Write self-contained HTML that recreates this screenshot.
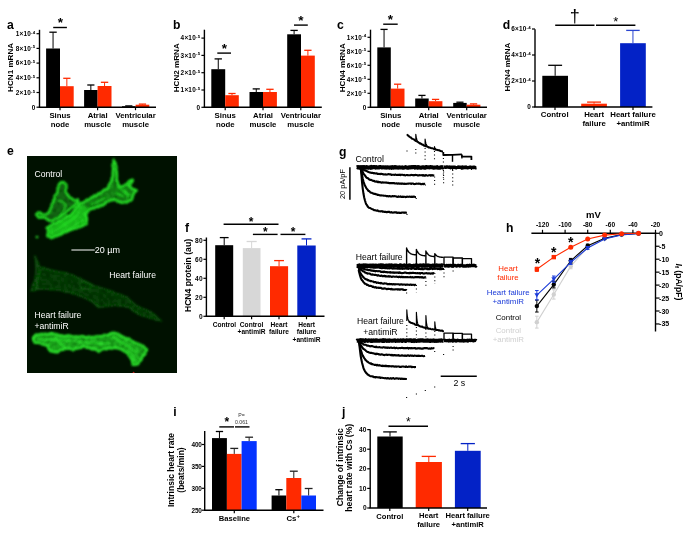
<!DOCTYPE html>
<html><head><meta charset="utf-8"><style>
html,body{margin:0;padding:0;background:#fff;}
body{width:685px;height:535px;overflow:hidden;}
svg{display:block;}
</style></head><body>
<svg width="685" height="535" viewBox="0 0 685 535" font-family='"Liberation Sans", Arial, sans-serif' font-weight="bold">
<rect width="685" height="535" fill="#fff"/>
<text x="7.00" y="29.30" font-size="12.2" text-anchor="start" fill="#000">a</text>
<text x="173.00" y="29.00" font-size="12.2" text-anchor="start" fill="#000">b</text>
<text x="337.00" y="29.40" font-size="12.2" text-anchor="start" fill="#000">c</text>
<text x="502.80" y="29.20" font-size="12.2" text-anchor="start" fill="#000">d</text>
<text x="7.00" y="155.30" font-size="12.2" text-anchor="start" fill="#000">e</text>
<text x="185.00" y="232.30" font-size="12.2" text-anchor="start" fill="#000">f</text>
<text x="339.00" y="156.00" font-size="12.2" text-anchor="start" fill="#000">g</text>
<text x="506.00" y="232.40" font-size="12.2" text-anchor="start" fill="#000">h</text>
<text x="173.30" y="416.40" font-size="12.2" text-anchor="start" fill="#000">i</text>
<text x="342.00" y="415.50" font-size="12.2" text-anchor="start" fill="#000">j</text>
<line x1="39.50" y1="29.80" x2="39.50" y2="107.20" stroke="#000" stroke-width="1.4"/>
<line x1="36.50" y1="107.20" x2="39.50" y2="107.20" stroke="#000" stroke-width="1.2"/>
<text x="35.50" y="109.50" font-size="6.4" text-anchor="end" fill="#000" letter-spacing="0.25">0</text>
<line x1="36.50" y1="92.50" x2="39.50" y2="92.50" stroke="#000" stroke-width="1.2"/>
<text x="35.50" y="94.80" font-size="6.4" text-anchor="end" fill="#000" letter-spacing="0.25">2×10<tspan font-size="4.4" dy="-2.3">-5</tspan></text>
<line x1="36.50" y1="77.80" x2="39.50" y2="77.80" stroke="#000" stroke-width="1.2"/>
<text x="35.50" y="80.10" font-size="6.4" text-anchor="end" fill="#000" letter-spacing="0.25">4×10<tspan font-size="4.4" dy="-2.3">-5</tspan></text>
<line x1="36.50" y1="63.10" x2="39.50" y2="63.10" stroke="#000" stroke-width="1.2"/>
<text x="35.50" y="65.40" font-size="6.4" text-anchor="end" fill="#000" letter-spacing="0.25">6×10<tspan font-size="4.4" dy="-2.3">-5</tspan></text>
<line x1="36.50" y1="48.40" x2="39.50" y2="48.40" stroke="#000" stroke-width="1.2"/>
<text x="35.50" y="50.70" font-size="6.4" text-anchor="end" fill="#000" letter-spacing="0.25">8×10<tspan font-size="4.4" dy="-2.3">-5</tspan></text>
<line x1="36.50" y1="33.70" x2="39.50" y2="33.70" stroke="#000" stroke-width="1.2"/>
<text x="35.50" y="36.00" font-size="6.4" text-anchor="end" fill="#000" letter-spacing="0.25">1×10<tspan font-size="4.4" dy="-2.3">-4</tspan></text>
<rect x="46.10" y="48.50" width="13.90" height="58.70" fill="#000"/>
<line x1="53.05" y1="48.50" x2="53.05" y2="32.20" stroke="#000" stroke-width="1.0"/>
<line x1="49.37" y1="32.20" x2="56.73" y2="32.20" stroke="#000" stroke-width="1.3"/>
<rect x="60.00" y="86.20" width="13.70" height="21.00" fill="#ff2a00"/>
<line x1="66.85" y1="86.20" x2="66.85" y2="78.30" stroke="#ff2a00" stroke-width="1.0"/>
<line x1="63.22" y1="78.30" x2="70.48" y2="78.30" stroke="#ff2a00" stroke-width="1.3"/>
<rect x="84.10" y="90.00" width="13.50" height="17.20" fill="#000"/>
<line x1="90.85" y1="90.00" x2="90.85" y2="85.00" stroke="#000" stroke-width="1.0"/>
<line x1="87.27" y1="85.00" x2="94.43" y2="85.00" stroke="#000" stroke-width="1.3"/>
<rect x="97.60" y="86.00" width="13.90" height="21.20" fill="#ff2a00"/>
<line x1="104.55" y1="86.00" x2="104.55" y2="82.30" stroke="#ff2a00" stroke-width="1.0"/>
<line x1="100.87" y1="82.30" x2="108.23" y2="82.30" stroke="#ff2a00" stroke-width="1.3"/>
<rect x="122.00" y="106.20" width="13.60" height="1.00" fill="#000"/>
<line x1="125.20" y1="105.90" x2="132.40" y2="105.90" stroke="#000" stroke-width="1.3"/>
<rect x="135.60" y="104.70" width="13.70" height="2.50" fill="#ff2a00"/>
<line x1="142.45" y1="104.70" x2="142.45" y2="104.10" stroke="#ff2a00" stroke-width="1.0"/>
<line x1="138.82" y1="104.10" x2="146.08" y2="104.10" stroke="#ff2a00" stroke-width="1.3"/>
<line x1="38.80" y1="107.20" x2="156.00" y2="107.20" stroke="#000" stroke-width="1.4"/>
<line x1="60.00" y1="107.20" x2="60.00" y2="110.20" stroke="#000" stroke-width="1.2"/>
<line x1="97.60" y1="107.20" x2="97.60" y2="110.20" stroke="#000" stroke-width="1.2"/>
<line x1="135.50" y1="107.20" x2="135.50" y2="110.20" stroke="#000" stroke-width="1.2"/>
<text x="60.00" y="117.90" font-size="7.8" text-anchor="middle" fill="#000">Sinus</text>
<text x="60.00" y="126.60" font-size="7.8" text-anchor="middle" fill="#000">node</text>
<text x="97.60" y="117.90" font-size="7.8" text-anchor="middle" fill="#000">Atrial</text>
<text x="97.60" y="126.60" font-size="7.8" text-anchor="middle" fill="#000">muscle</text>
<text x="135.60" y="117.90" font-size="7.8" text-anchor="middle" fill="#000">Ventricular</text>
<text x="135.60" y="126.60" font-size="7.8" text-anchor="middle" fill="#000">muscle</text>
<line x1="53.20" y1="27.50" x2="66.90" y2="27.50" stroke="#000" stroke-width="1.4"/>
<text x="60.30" y="27.45" font-size="13.5" text-anchor="middle" fill="#000">*</text>
<text x="13.40" y="67.40" font-size="8.1" text-anchor="middle" fill="#000" transform="rotate(-90 13.40 67.40)">HCN1 mRNA</text>
<line x1="204.40" y1="29.70" x2="204.40" y2="107.30" stroke="#000" stroke-width="1.4"/>
<line x1="201.40" y1="107.30" x2="204.40" y2="107.30" stroke="#000" stroke-width="1.2"/>
<text x="200.40" y="109.60" font-size="6.4" text-anchor="end" fill="#000" letter-spacing="0.25">0</text>
<line x1="201.40" y1="90.00" x2="204.40" y2="90.00" stroke="#000" stroke-width="1.2"/>
<text x="200.40" y="92.30" font-size="6.4" text-anchor="end" fill="#000" letter-spacing="0.25">1×10<tspan font-size="4.4" dy="-2.3">-5</tspan></text>
<line x1="201.40" y1="72.70" x2="204.40" y2="72.70" stroke="#000" stroke-width="1.2"/>
<text x="200.40" y="75.00" font-size="6.4" text-anchor="end" fill="#000" letter-spacing="0.25">2×10<tspan font-size="4.4" dy="-2.3">-5</tspan></text>
<line x1="201.40" y1="55.40" x2="204.40" y2="55.40" stroke="#000" stroke-width="1.2"/>
<text x="200.40" y="57.70" font-size="6.4" text-anchor="end" fill="#000" letter-spacing="0.25">3×10<tspan font-size="4.4" dy="-2.3">-5</tspan></text>
<line x1="201.40" y1="38.10" x2="204.40" y2="38.10" stroke="#000" stroke-width="1.2"/>
<text x="200.40" y="40.40" font-size="6.4" text-anchor="end" fill="#000" letter-spacing="0.25">4×10<tspan font-size="4.4" dy="-2.3">-5</tspan></text>
<rect x="211.30" y="69.20" width="13.90" height="38.10" fill="#000"/>
<line x1="218.25" y1="69.20" x2="218.25" y2="58.90" stroke="#000" stroke-width="1.0"/>
<line x1="214.57" y1="58.90" x2="221.93" y2="58.90" stroke="#000" stroke-width="1.3"/>
<rect x="225.20" y="95.20" width="13.60" height="12.10" fill="#ff2a00"/>
<line x1="232.00" y1="95.20" x2="232.00" y2="93.50" stroke="#ff2a00" stroke-width="1.0"/>
<line x1="228.40" y1="93.50" x2="235.60" y2="93.50" stroke="#ff2a00" stroke-width="1.3"/>
<rect x="249.50" y="92.00" width="13.50" height="15.30" fill="#000"/>
<line x1="256.25" y1="92.00" x2="256.25" y2="88.90" stroke="#000" stroke-width="1.0"/>
<line x1="252.67" y1="88.90" x2="259.83" y2="88.90" stroke="#000" stroke-width="1.3"/>
<rect x="263.00" y="92.00" width="13.90" height="15.30" fill="#ff2a00"/>
<line x1="269.95" y1="92.00" x2="269.95" y2="89.30" stroke="#ff2a00" stroke-width="1.0"/>
<line x1="266.27" y1="89.30" x2="273.63" y2="89.30" stroke="#ff2a00" stroke-width="1.3"/>
<rect x="287.20" y="34.30" width="13.80" height="73.00" fill="#000"/>
<line x1="294.10" y1="34.30" x2="294.10" y2="30.40" stroke="#000" stroke-width="1.0"/>
<line x1="290.44" y1="30.40" x2="297.76" y2="30.40" stroke="#000" stroke-width="1.3"/>
<rect x="301.00" y="55.60" width="13.80" height="51.70" fill="#ff2a00"/>
<line x1="307.90" y1="55.60" x2="307.90" y2="50.30" stroke="#ff2a00" stroke-width="1.0"/>
<line x1="304.24" y1="50.30" x2="311.56" y2="50.30" stroke="#ff2a00" stroke-width="1.3"/>
<line x1="203.70" y1="107.30" x2="321.80" y2="107.30" stroke="#000" stroke-width="1.4"/>
<line x1="225.20" y1="107.30" x2="225.20" y2="110.30" stroke="#000" stroke-width="1.2"/>
<line x1="263.00" y1="107.30" x2="263.00" y2="110.30" stroke="#000" stroke-width="1.2"/>
<line x1="300.80" y1="107.30" x2="300.80" y2="110.30" stroke="#000" stroke-width="1.2"/>
<text x="225.20" y="117.90" font-size="7.8" text-anchor="middle" fill="#000">Sinus</text>
<text x="225.20" y="126.60" font-size="7.8" text-anchor="middle" fill="#000">node</text>
<text x="263.00" y="117.90" font-size="7.8" text-anchor="middle" fill="#000">Atrial</text>
<text x="263.00" y="126.60" font-size="7.8" text-anchor="middle" fill="#000">muscle</text>
<text x="300.80" y="117.90" font-size="7.8" text-anchor="middle" fill="#000">Ventricular</text>
<text x="300.80" y="126.60" font-size="7.8" text-anchor="middle" fill="#000">muscle</text>
<line x1="217.30" y1="53.10" x2="231.00" y2="53.10" stroke="#000" stroke-width="1.4"/>
<text x="224.40" y="52.85" font-size="13.5" text-anchor="middle" fill="#000">*</text>
<line x1="294.00" y1="25.10" x2="307.80" y2="25.10" stroke="#000" stroke-width="1.4"/>
<text x="300.90" y="24.85" font-size="13.5" text-anchor="middle" fill="#000">*</text>
<text x="179.20" y="67.70" font-size="8.1" text-anchor="middle" fill="#000" transform="rotate(-90 179.20 67.70)">HCN2 mRNA</text>
<line x1="370.50" y1="29.70" x2="370.50" y2="107.30" stroke="#000" stroke-width="1.4"/>
<line x1="367.50" y1="107.30" x2="370.50" y2="107.30" stroke="#000" stroke-width="1.2"/>
<text x="366.50" y="109.60" font-size="6.4" text-anchor="end" fill="#000" letter-spacing="0.25">0</text>
<line x1="367.50" y1="93.30" x2="370.50" y2="93.30" stroke="#000" stroke-width="1.2"/>
<text x="366.50" y="95.60" font-size="6.4" text-anchor="end" fill="#000" letter-spacing="0.25">2×10<tspan font-size="4.4" dy="-2.3">-5</tspan></text>
<line x1="367.50" y1="79.30" x2="370.50" y2="79.30" stroke="#000" stroke-width="1.2"/>
<text x="366.50" y="81.60" font-size="6.4" text-anchor="end" fill="#000" letter-spacing="0.25">4×10<tspan font-size="4.4" dy="-2.3">-5</tspan></text>
<line x1="367.50" y1="65.30" x2="370.50" y2="65.30" stroke="#000" stroke-width="1.2"/>
<text x="366.50" y="67.60" font-size="6.4" text-anchor="end" fill="#000" letter-spacing="0.25">6×10<tspan font-size="4.4" dy="-2.3">-5</tspan></text>
<line x1="367.50" y1="51.30" x2="370.50" y2="51.30" stroke="#000" stroke-width="1.2"/>
<text x="366.50" y="53.60" font-size="6.4" text-anchor="end" fill="#000" letter-spacing="0.25">8×10<tspan font-size="4.4" dy="-2.3">-5</tspan></text>
<line x1="367.50" y1="37.30" x2="370.50" y2="37.30" stroke="#000" stroke-width="1.2"/>
<text x="366.50" y="39.60" font-size="6.4" text-anchor="end" fill="#000" letter-spacing="0.25">1×10<tspan font-size="4.4" dy="-2.3">-4</tspan></text>
<rect x="377.30" y="47.40" width="13.50" height="59.90" fill="#000"/>
<line x1="384.05" y1="47.40" x2="384.05" y2="29.40" stroke="#000" stroke-width="1.0"/>
<line x1="380.47" y1="29.40" x2="387.63" y2="29.40" stroke="#000" stroke-width="1.3"/>
<rect x="390.80" y="88.60" width="13.70" height="18.70" fill="#ff2a00"/>
<line x1="397.65" y1="88.60" x2="397.65" y2="84.20" stroke="#ff2a00" stroke-width="1.0"/>
<line x1="394.02" y1="84.20" x2="401.28" y2="84.20" stroke="#ff2a00" stroke-width="1.3"/>
<rect x="415.20" y="98.50" width="13.50" height="8.80" fill="#000"/>
<line x1="421.95" y1="98.50" x2="421.95" y2="95.40" stroke="#000" stroke-width="1.0"/>
<line x1="418.37" y1="95.40" x2="425.53" y2="95.40" stroke="#000" stroke-width="1.3"/>
<rect x="428.70" y="101.20" width="13.70" height="6.10" fill="#ff2a00"/>
<line x1="435.55" y1="101.20" x2="435.55" y2="99.40" stroke="#ff2a00" stroke-width="1.0"/>
<line x1="431.92" y1="99.40" x2="439.18" y2="99.40" stroke="#ff2a00" stroke-width="1.3"/>
<rect x="453.20" y="102.90" width="13.50" height="4.40" fill="#000"/>
<line x1="459.95" y1="102.90" x2="459.95" y2="102.20" stroke="#000" stroke-width="1.0"/>
<line x1="456.37" y1="102.20" x2="463.53" y2="102.20" stroke="#000" stroke-width="1.3"/>
<rect x="466.70" y="104.70" width="13.70" height="2.60" fill="#ff2a00"/>
<line x1="473.55" y1="104.70" x2="473.55" y2="103.90" stroke="#ff2a00" stroke-width="1.0"/>
<line x1="469.92" y1="103.90" x2="477.18" y2="103.90" stroke="#ff2a00" stroke-width="1.3"/>
<line x1="369.80" y1="107.30" x2="487.00" y2="107.30" stroke="#000" stroke-width="1.4"/>
<line x1="390.80" y1="107.30" x2="390.80" y2="110.30" stroke="#000" stroke-width="1.2"/>
<line x1="428.70" y1="107.30" x2="428.70" y2="110.30" stroke="#000" stroke-width="1.2"/>
<line x1="466.70" y1="107.30" x2="466.70" y2="110.30" stroke="#000" stroke-width="1.2"/>
<text x="390.80" y="117.90" font-size="7.8" text-anchor="middle" fill="#000">Sinus</text>
<text x="390.80" y="126.60" font-size="7.8" text-anchor="middle" fill="#000">node</text>
<text x="428.70" y="117.90" font-size="7.8" text-anchor="middle" fill="#000">Atrial</text>
<text x="428.70" y="126.60" font-size="7.8" text-anchor="middle" fill="#000">muscle</text>
<text x="466.70" y="117.90" font-size="7.8" text-anchor="middle" fill="#000">Ventricular</text>
<text x="466.70" y="126.60" font-size="7.8" text-anchor="middle" fill="#000">muscle</text>
<line x1="383.20" y1="24.20" x2="397.70" y2="24.20" stroke="#000" stroke-width="1.4"/>
<text x="390.40" y="23.95" font-size="13.5" text-anchor="middle" fill="#000">*</text>
<text x="344.70" y="67.70" font-size="8.1" text-anchor="middle" fill="#000" transform="rotate(-90 344.70 67.70)">HCN4 mRNA</text>
<line x1="535.00" y1="29.20" x2="535.00" y2="107.00" stroke="#000" stroke-width="1.4"/>
<line x1="532.00" y1="107.00" x2="535.00" y2="107.00" stroke="#000" stroke-width="1.2"/>
<text x="531.00" y="109.30" font-size="6.4" text-anchor="end" fill="#000" letter-spacing="0.25">0</text>
<line x1="532.00" y1="81.00" x2="535.00" y2="81.00" stroke="#000" stroke-width="1.2"/>
<text x="531.00" y="83.30" font-size="6.4" text-anchor="end" fill="#000" letter-spacing="0.25">2×10<tspan font-size="4.4" dy="-2.3">-4</tspan></text>
<line x1="532.00" y1="55.00" x2="535.00" y2="55.00" stroke="#000" stroke-width="1.2"/>
<text x="531.00" y="57.30" font-size="6.4" text-anchor="end" fill="#000" letter-spacing="0.25">4×10<tspan font-size="4.4" dy="-2.3">-4</tspan></text>
<line x1="532.00" y1="29.00" x2="535.00" y2="29.00" stroke="#000" stroke-width="1.2"/>
<text x="531.00" y="31.30" font-size="6.4" text-anchor="end" fill="#000" letter-spacing="0.25">6×10<tspan font-size="4.4" dy="-2.3">-4</tspan></text>
<rect x="542.30" y="75.80" width="25.70" height="31.20" fill="#000"/>
<line x1="555.15" y1="75.80" x2="555.15" y2="65.30" stroke="#000" stroke-width="1.0"/>
<line x1="548.20" y1="65.30" x2="562.10" y2="65.30" stroke="#000" stroke-width="1.3"/>
<rect x="581.20" y="103.70" width="25.70" height="3.30" fill="#ff2a00"/>
<line x1="594.05" y1="103.70" x2="594.05" y2="102.10" stroke="#ff2a00" stroke-width="1.0"/>
<line x1="587.10" y1="102.10" x2="601.00" y2="102.10" stroke="#ff2a00" stroke-width="1.3"/>
<rect x="620.10" y="43.20" width="25.70" height="63.80" fill="#0322c6"/>
<line x1="632.95" y1="43.20" x2="632.95" y2="30.40" stroke="#2a45d0" stroke-width="1.0"/>
<line x1="626.20" y1="30.40" x2="639.70" y2="30.40" stroke="#2a45d0" stroke-width="1.3"/>
<line x1="534.30" y1="107.00" x2="652.40" y2="107.00" stroke="#000" stroke-width="1.4"/>
<line x1="555.00" y1="107.00" x2="555.00" y2="110.00" stroke="#000" stroke-width="1.2"/>
<line x1="594.00" y1="107.00" x2="594.00" y2="110.00" stroke="#000" stroke-width="1.2"/>
<line x1="633.00" y1="107.00" x2="633.00" y2="110.00" stroke="#000" stroke-width="1.2"/>
<text x="554.70" y="117.00" font-size="7.8" text-anchor="middle" fill="#000">Control</text>
<text x="594.10" y="117.00" font-size="7.8" text-anchor="middle" fill="#000">Heart</text>
<text x="594.10" y="126.40" font-size="7.8" text-anchor="middle" fill="#000">failure</text>
<text x="633.00" y="117.00" font-size="7.8" text-anchor="middle" fill="#000">Heart failure</text>
<text x="633.00" y="126.40" font-size="7.8" text-anchor="middle" fill="#000">+antimiR</text>
<line x1="555.20" y1="25.30" x2="594.50" y2="25.30" stroke="#000" stroke-width="1.4"/>
<line x1="596.00" y1="25.30" x2="635.40" y2="25.30" stroke="#000" stroke-width="1.4"/>
<text x="574.80" y="22.20" font-size="18" font-weight="normal" text-anchor="middle" fill="#000">†</text>
<text x="615.70" y="26.10" font-size="13" font-weight="normal" text-anchor="middle" fill="#000">*</text>
<text x="509.80" y="67.10" font-size="8.1" text-anchor="middle" fill="#000" transform="rotate(-90 509.80 67.10)">HCN4 mRNA</text>
<line x1="206.40" y1="237.50" x2="206.40" y2="316.30" stroke="#000" stroke-width="1.4"/>
<line x1="203.40" y1="316.30" x2="206.40" y2="316.30" stroke="#000" stroke-width="1.2"/>
<text x="202.90" y="318.70" font-size="6.6" text-anchor="end" fill="#000" letter-spacing="0.25">0</text>
<line x1="203.40" y1="297.30" x2="206.40" y2="297.30" stroke="#000" stroke-width="1.2"/>
<text x="202.90" y="299.70" font-size="6.6" text-anchor="end" fill="#000" letter-spacing="0.25">20</text>
<line x1="203.40" y1="278.30" x2="206.40" y2="278.30" stroke="#000" stroke-width="1.2"/>
<text x="202.90" y="280.70" font-size="6.6" text-anchor="end" fill="#000" letter-spacing="0.25">40</text>
<line x1="203.40" y1="259.30" x2="206.40" y2="259.30" stroke="#000" stroke-width="1.2"/>
<text x="202.90" y="261.70" font-size="6.6" text-anchor="end" fill="#000" letter-spacing="0.25">60</text>
<line x1="203.40" y1="240.30" x2="206.40" y2="240.30" stroke="#000" stroke-width="1.2"/>
<text x="202.90" y="242.70" font-size="6.6" text-anchor="end" fill="#000" letter-spacing="0.25">80</text>
<rect x="215.20" y="245.20" width="18.00" height="71.10" fill="#000"/>
<line x1="224.20" y1="245.20" x2="224.20" y2="237.60" stroke="#000" stroke-width="1.0"/>
<line x1="219.80" y1="237.60" x2="228.60" y2="237.60" stroke="#000" stroke-width="1.3"/>
<rect x="242.80" y="248.10" width="17.70" height="68.20" fill="#d7d7d7"/>
<line x1="251.65" y1="248.10" x2="251.65" y2="241.50" stroke="#d7d7d7" stroke-width="1.0"/>
<line x1="246.60" y1="241.50" x2="256.70" y2="241.50" stroke="#d7d7d7" stroke-width="1.3"/>
<rect x="270.00" y="266.20" width="18.10" height="50.10" fill="#ff2a00"/>
<line x1="279.05" y1="266.20" x2="279.05" y2="260.60" stroke="#ff2a00" stroke-width="1.0"/>
<line x1="274.15" y1="260.60" x2="283.95" y2="260.60" stroke="#ff2a00" stroke-width="1.3"/>
<rect x="297.30" y="245.50" width="18.40" height="70.80" fill="#0322c6"/>
<line x1="306.50" y1="245.50" x2="306.50" y2="238.90" stroke="#0322c6" stroke-width="1.0"/>
<line x1="301.55" y1="238.90" x2="311.45" y2="238.90" stroke="#0322c6" stroke-width="1.3"/>
<line x1="205.70" y1="316.30" x2="324.50" y2="316.30" stroke="#000" stroke-width="1.4"/>
<line x1="224.20" y1="316.30" x2="224.20" y2="319.30" stroke="#000" stroke-width="1.2"/>
<line x1="251.60" y1="316.30" x2="251.60" y2="319.30" stroke="#000" stroke-width="1.2"/>
<line x1="279.00" y1="316.30" x2="279.00" y2="319.30" stroke="#000" stroke-width="1.2"/>
<line x1="306.50" y1="316.30" x2="306.50" y2="319.30" stroke="#000" stroke-width="1.2"/>
<text x="224.40" y="326.70" font-size="6.6" text-anchor="middle" fill="#000">Control</text>
<text x="251.60" y="326.70" font-size="6.6" text-anchor="middle" fill="#000">Control</text>
<text x="251.60" y="334.10" font-size="6.6" text-anchor="middle" fill="#000">+antimiR</text>
<text x="279.00" y="326.70" font-size="6.6" text-anchor="middle" fill="#000">Heart</text>
<text x="279.00" y="334.10" font-size="6.6" text-anchor="middle" fill="#000">failure</text>
<text x="306.60" y="326.70" font-size="6.6" text-anchor="middle" fill="#000">Heart</text>
<text x="306.60" y="334.10" font-size="6.6" text-anchor="middle" fill="#000">failure</text>
<text x="306.60" y="341.50" font-size="6.6" text-anchor="middle" fill="#000">+antimiR</text>
<line x1="223.60" y1="224.20" x2="278.50" y2="224.20" stroke="#000" stroke-width="1.4"/>
<text x="251.00" y="225.90" font-size="12" text-anchor="middle" fill="#000">*</text>
<line x1="252.90" y1="234.40" x2="277.60" y2="234.40" stroke="#000" stroke-width="1.4"/>
<text x="265.40" y="236.00" font-size="12" text-anchor="middle" fill="#000">*</text>
<line x1="280.50" y1="234.40" x2="305.40" y2="234.40" stroke="#000" stroke-width="1.4"/>
<text x="293.20" y="235.80" font-size="12" text-anchor="middle" fill="#000">*</text>
<text x="190.60" y="275.50" font-size="8.6" text-anchor="middle" fill="#000" transform="rotate(-90 190.60 275.50)">HCN4 protein (au)</text>
<line x1="204.70" y1="431.10" x2="204.70" y2="510.20" stroke="#000" stroke-width="1.4"/>
<line x1="201.70" y1="510.20" x2="204.70" y2="510.20" stroke="#000" stroke-width="1.2"/>
<text x="201.80" y="512.60" font-size="6.4" text-anchor="end" fill="#000" letter-spacing="-0.1">250</text>
<line x1="201.70" y1="488.30" x2="204.70" y2="488.30" stroke="#000" stroke-width="1.2"/>
<text x="201.80" y="490.70" font-size="6.4" text-anchor="end" fill="#000" letter-spacing="-0.1">300</text>
<line x1="201.70" y1="466.40" x2="204.70" y2="466.40" stroke="#000" stroke-width="1.2"/>
<text x="201.80" y="468.80" font-size="6.4" text-anchor="end" fill="#000" letter-spacing="-0.1">350</text>
<line x1="201.70" y1="444.50" x2="204.70" y2="444.50" stroke="#000" stroke-width="1.2"/>
<text x="201.80" y="446.90" font-size="6.4" text-anchor="end" fill="#000" letter-spacing="-0.1">400</text>
<rect x="212.00" y="438.10" width="14.90" height="72.10" fill="#000"/>
<line x1="219.45" y1="438.10" x2="219.45" y2="431.50" stroke="#000" stroke-width="1.0"/>
<line x1="215.80" y1="431.50" x2="223.10" y2="431.50" stroke="#000" stroke-width="1.3"/>
<rect x="226.90" y="453.90" width="14.70" height="56.30" fill="#ff2a00"/>
<line x1="234.25" y1="453.90" x2="234.25" y2="448.40" stroke="#222" stroke-width="1.0"/>
<line x1="230.30" y1="448.40" x2="238.20" y2="448.40" stroke="#222" stroke-width="1.3"/>
<rect x="241.60" y="441.10" width="15.10" height="69.10" fill="#0433ff"/>
<line x1="249.15" y1="441.10" x2="249.15" y2="437.20" stroke="#222" stroke-width="1.0"/>
<line x1="245.25" y1="437.20" x2="253.05" y2="437.20" stroke="#222" stroke-width="1.3"/>
<rect x="271.60" y="495.50" width="14.70" height="14.70" fill="#000"/>
<line x1="278.95" y1="495.50" x2="278.95" y2="489.70" stroke="#000" stroke-width="1.0"/>
<line x1="275.30" y1="489.70" x2="282.60" y2="489.70" stroke="#000" stroke-width="1.3"/>
<rect x="286.30" y="478.00" width="15.00" height="32.20" fill="#ff2a00"/>
<line x1="293.80" y1="478.00" x2="293.80" y2="471.20" stroke="#222" stroke-width="1.0"/>
<line x1="289.85" y1="471.20" x2="297.75" y2="471.20" stroke="#222" stroke-width="1.3"/>
<rect x="301.30" y="495.50" width="14.70" height="14.70" fill="#0433ff"/>
<line x1="308.65" y1="495.50" x2="308.65" y2="488.50" stroke="#222" stroke-width="1.0"/>
<line x1="304.75" y1="488.50" x2="312.55" y2="488.50" stroke="#222" stroke-width="1.3"/>
<line x1="204.00" y1="510.20" x2="323.50" y2="510.20" stroke="#000" stroke-width="1.4"/>
<line x1="234.30" y1="510.20" x2="234.30" y2="513.20" stroke="#000" stroke-width="1.2"/>
<line x1="293.80" y1="510.20" x2="293.80" y2="513.20" stroke="#000" stroke-width="1.2"/>
<text x="234.40" y="520.80" font-size="7.6" text-anchor="middle" fill="#000">Baseline</text>
<text x="293.20" y="521.00" font-size="7.8" text-anchor="middle" fill="#000">Cs<tspan font-size="6" dy="-3.3">+</tspan></text>
<line x1="219.30" y1="426.90" x2="234.00" y2="426.90" stroke="#000" stroke-width="1.4"/>
<text x="226.80" y="425.70" font-size="12" text-anchor="middle" fill="#000">*</text>
<line x1="235.00" y1="426.90" x2="249.50" y2="426.90" stroke="#000" stroke-width="1.4"/>
<text x="241.60" y="417.00" font-size="5.2" font-weight="normal" text-anchor="middle" fill="#333">P=</text>
<text x="241.50" y="424.20" font-size="5.2" font-weight="normal" text-anchor="middle" fill="#333">0.061</text>
<text x="173.50" y="470.00" font-size="8.5" text-anchor="middle" fill="#000" transform="rotate(-90 173.50 470.00)">Intrinsic heart rate</text>
<text x="184.30" y="470.00" font-size="8.5" text-anchor="middle" fill="#000" transform="rotate(-90 184.30 470.00)">(beats/min)</text>
<line x1="370.20" y1="429.60" x2="370.20" y2="508.00" stroke="#000" stroke-width="1.4"/>
<line x1="367.20" y1="508.00" x2="370.20" y2="508.00" stroke="#000" stroke-width="1.2"/>
<text x="366.80" y="510.40" font-size="6.6" text-anchor="end" fill="#000" letter-spacing="0.25">0</text>
<line x1="367.20" y1="488.40" x2="370.20" y2="488.40" stroke="#000" stroke-width="1.2"/>
<text x="366.80" y="490.80" font-size="6.6" text-anchor="end" fill="#000" letter-spacing="0.25">10</text>
<line x1="367.20" y1="468.80" x2="370.20" y2="468.80" stroke="#000" stroke-width="1.2"/>
<text x="366.80" y="471.20" font-size="6.6" text-anchor="end" fill="#000" letter-spacing="0.25">20</text>
<line x1="367.20" y1="449.20" x2="370.20" y2="449.20" stroke="#000" stroke-width="1.2"/>
<text x="366.80" y="451.60" font-size="6.6" text-anchor="end" fill="#000" letter-spacing="0.25">30</text>
<line x1="367.20" y1="429.60" x2="370.20" y2="429.60" stroke="#000" stroke-width="1.2"/>
<text x="366.80" y="432.00" font-size="6.6" text-anchor="end" fill="#000" letter-spacing="0.25">40</text>
<rect x="377.30" y="436.50" width="25.40" height="71.50" fill="#000"/>
<line x1="390.00" y1="436.50" x2="390.00" y2="431.90" stroke="#000" stroke-width="1.0"/>
<line x1="383.20" y1="431.90" x2="396.80" y2="431.90" stroke="#000" stroke-width="1.3"/>
<rect x="415.70" y="462.00" width="26.20" height="46.00" fill="#ff2a00"/>
<line x1="428.80" y1="462.00" x2="428.80" y2="456.40" stroke="#ff2a00" stroke-width="1.0"/>
<line x1="421.70" y1="456.40" x2="435.90" y2="456.40" stroke="#ff2a00" stroke-width="1.3"/>
<rect x="454.90" y="450.80" width="25.80" height="57.20" fill="#0322c6"/>
<line x1="467.80" y1="450.80" x2="467.80" y2="443.60" stroke="#0322c6" stroke-width="1.0"/>
<line x1="460.70" y1="443.60" x2="474.90" y2="443.60" stroke="#0322c6" stroke-width="1.3"/>
<line x1="369.50" y1="508.00" x2="487.00" y2="508.00" stroke="#000" stroke-width="1.4"/>
<line x1="389.80" y1="508.00" x2="389.80" y2="511.00" stroke="#000" stroke-width="1.2"/>
<line x1="428.70" y1="508.00" x2="428.70" y2="511.00" stroke="#000" stroke-width="1.2"/>
<line x1="467.70" y1="508.00" x2="467.70" y2="511.00" stroke="#000" stroke-width="1.2"/>
<text x="389.80" y="518.60" font-size="7.6" text-anchor="middle" fill="#000">Control</text>
<text x="428.70" y="518.00" font-size="7.6" text-anchor="middle" fill="#000">Heart</text>
<text x="428.70" y="526.80" font-size="7.6" text-anchor="middle" fill="#000">failure</text>
<text x="467.70" y="518.00" font-size="7.6" text-anchor="middle" fill="#000">Heart failure</text>
<text x="467.70" y="526.80" font-size="7.6" text-anchor="middle" fill="#000">+antimiR</text>
<line x1="388.50" y1="426.20" x2="428.00" y2="426.20" stroke="#000" stroke-width="1.4"/>
<text x="408.40" y="426.40" font-size="12" font-weight="normal" text-anchor="middle" fill="#000">*</text>
<text x="342.60" y="467.20" font-size="8.6" text-anchor="middle" fill="#000" transform="rotate(-90 342.60 467.20)">Change of intrinsic</text>
<text x="351.90" y="467.70" font-size="8.6" text-anchor="middle" fill="#000" transform="rotate(-90 351.90 467.70)">heart rate with Cs (%)</text>
<line x1="531.40" y1="233.30" x2="656.20" y2="233.30" stroke="#000" stroke-width="1.4"/>
<line x1="542.50" y1="233.30" x2="542.50" y2="229.80" stroke="#000" stroke-width="1.2"/>
<text x="542.50" y="227.00" font-size="6.6" text-anchor="middle" fill="#000">-120</text>
<line x1="565.10" y1="233.30" x2="565.10" y2="229.80" stroke="#000" stroke-width="1.2"/>
<text x="565.10" y="227.00" font-size="6.6" text-anchor="middle" fill="#000">-100</text>
<line x1="587.70" y1="233.30" x2="587.70" y2="229.80" stroke="#000" stroke-width="1.2"/>
<text x="587.70" y="227.00" font-size="6.6" text-anchor="middle" fill="#000">-80</text>
<line x1="610.30" y1="233.30" x2="610.30" y2="229.80" stroke="#000" stroke-width="1.2"/>
<text x="610.30" y="227.00" font-size="6.6" text-anchor="middle" fill="#000">-60</text>
<line x1="632.90" y1="233.30" x2="632.90" y2="229.80" stroke="#000" stroke-width="1.2"/>
<text x="632.90" y="227.00" font-size="6.6" text-anchor="middle" fill="#000">-40</text>
<line x1="655.50" y1="233.30" x2="655.50" y2="229.80" stroke="#000" stroke-width="1.2"/>
<text x="655.50" y="227.00" font-size="6.6" text-anchor="middle" fill="#000">-20</text>
<text x="593.50" y="217.80" font-size="9.5" text-anchor="middle" fill="#000">mV</text>
<line x1="655.50" y1="232.60" x2="655.50" y2="331.50" stroke="#000" stroke-width="1.4"/>
<line x1="655.50" y1="233.30" x2="659.60" y2="233.30" stroke="#000" stroke-width="1.2"/>
<text x="659.10" y="235.80" font-size="7.0" text-anchor="start" fill="#000">0</text>
<line x1="655.50" y1="246.25" x2="659.60" y2="246.25" stroke="#000" stroke-width="1.2"/>
<text x="659.10" y="248.75" font-size="7.0" text-anchor="start" fill="#000">-5</text>
<line x1="655.50" y1="259.20" x2="659.60" y2="259.20" stroke="#000" stroke-width="1.2"/>
<text x="659.10" y="261.70" font-size="7.0" text-anchor="start" fill="#000">-10</text>
<line x1="655.50" y1="272.15" x2="659.60" y2="272.15" stroke="#000" stroke-width="1.2"/>
<text x="659.10" y="274.65" font-size="7.0" text-anchor="start" fill="#000">-15</text>
<line x1="655.50" y1="285.10" x2="659.60" y2="285.10" stroke="#000" stroke-width="1.2"/>
<text x="659.10" y="287.60" font-size="7.0" text-anchor="start" fill="#000">-20</text>
<line x1="655.50" y1="298.05" x2="659.60" y2="298.05" stroke="#000" stroke-width="1.2"/>
<text x="659.10" y="300.55" font-size="7.0" text-anchor="start" fill="#000">-25</text>
<line x1="655.50" y1="311.00" x2="659.60" y2="311.00" stroke="#000" stroke-width="1.2"/>
<text x="659.10" y="313.50" font-size="7.0" text-anchor="start" fill="#000">-30</text>
<line x1="655.50" y1="323.95" x2="659.60" y2="323.95" stroke="#000" stroke-width="1.2"/>
<text x="659.10" y="326.45" font-size="7.0" text-anchor="start" fill="#000">-35</text>
<text x="676.00" y="263.50" font-size="8.6" text-anchor="start" fill="#000" transform="rotate(90 676.00 263.50)"><tspan font-style="italic">I</tspan><tspan font-size="6" dy="1.5">f</tspan><tspan dy="-1.5"> (pA/pF)</tspan></text>
<polyline points="536.85,322.14 553.80,294.42 570.75,266.19 587.70,247.29 604.65,238.48 621.60,234.59 638.55,233.56" fill="none" stroke="#d0d0d0" stroke-width="1.1"/>
<line x1="536.85" y1="316.18" x2="536.85" y2="328.09" stroke="#d0d0d0" stroke-width="1.0"/>
<line x1="535.05" y1="316.18" x2="538.65" y2="316.18" stroke="#d0d0d0" stroke-width="1.0"/>
<line x1="535.05" y1="328.09" x2="538.65" y2="328.09" stroke="#d0d0d0" stroke-width="1.0"/>
<circle cx="536.85" cy="322.14" r="2.2" fill="#d0d0d0"/>
<line x1="553.80" y1="289.76" x2="553.80" y2="299.09" stroke="#d0d0d0" stroke-width="1.0"/>
<line x1="552.00" y1="289.76" x2="555.60" y2="289.76" stroke="#d0d0d0" stroke-width="1.0"/>
<line x1="552.00" y1="299.09" x2="555.60" y2="299.09" stroke="#d0d0d0" stroke-width="1.0"/>
<circle cx="553.80" cy="294.42" r="2.2" fill="#d0d0d0"/>
<line x1="570.75" y1="263.60" x2="570.75" y2="268.78" stroke="#d0d0d0" stroke-width="1.0"/>
<line x1="568.95" y1="263.60" x2="572.55" y2="263.60" stroke="#d0d0d0" stroke-width="1.0"/>
<line x1="568.95" y1="268.78" x2="572.55" y2="268.78" stroke="#d0d0d0" stroke-width="1.0"/>
<circle cx="570.75" cy="266.19" r="2.2" fill="#d0d0d0"/>
<line x1="587.70" y1="245.99" x2="587.70" y2="248.58" stroke="#d0d0d0" stroke-width="1.0"/>
<line x1="585.90" y1="245.99" x2="589.50" y2="245.99" stroke="#d0d0d0" stroke-width="1.0"/>
<line x1="585.90" y1="248.58" x2="589.50" y2="248.58" stroke="#d0d0d0" stroke-width="1.0"/>
<circle cx="587.70" cy="247.29" r="2.2" fill="#d0d0d0"/>
<circle cx="604.65" cy="238.48" r="2.2" fill="#d0d0d0"/>
<circle cx="621.60" cy="234.59" r="2.2" fill="#d0d0d0"/>
<circle cx="638.55" cy="233.56" r="2.2" fill="#d0d0d0"/>
<polyline points="536.85,306.08 553.80,284.58 570.75,260.75 587.70,245.73 604.65,238.22 621.60,234.59 638.55,233.56" fill="none" stroke="#000" stroke-width="1.1"/>
<line x1="536.85" y1="300.12" x2="536.85" y2="312.04" stroke="#000" stroke-width="1.0"/>
<line x1="535.05" y1="300.12" x2="538.65" y2="300.12" stroke="#000" stroke-width="1.0"/>
<line x1="535.05" y1="312.04" x2="538.65" y2="312.04" stroke="#000" stroke-width="1.0"/>
<circle cx="536.85" cy="306.08" r="2.2" fill="#000"/>
<line x1="553.80" y1="281.22" x2="553.80" y2="287.95" stroke="#000" stroke-width="1.0"/>
<line x1="552.00" y1="281.22" x2="555.60" y2="281.22" stroke="#000" stroke-width="1.0"/>
<line x1="552.00" y1="287.95" x2="555.60" y2="287.95" stroke="#000" stroke-width="1.0"/>
<circle cx="553.80" cy="284.58" r="2.2" fill="#000"/>
<line x1="570.75" y1="258.42" x2="570.75" y2="263.09" stroke="#000" stroke-width="1.0"/>
<line x1="568.95" y1="258.42" x2="572.55" y2="258.42" stroke="#000" stroke-width="1.0"/>
<line x1="568.95" y1="263.09" x2="572.55" y2="263.09" stroke="#000" stroke-width="1.0"/>
<circle cx="570.75" cy="260.75" r="2.2" fill="#000"/>
<line x1="587.70" y1="244.18" x2="587.70" y2="247.29" stroke="#000" stroke-width="1.0"/>
<line x1="585.90" y1="244.18" x2="589.50" y2="244.18" stroke="#000" stroke-width="1.0"/>
<line x1="585.90" y1="247.29" x2="589.50" y2="247.29" stroke="#000" stroke-width="1.0"/>
<circle cx="587.70" cy="245.73" r="2.2" fill="#000"/>
<circle cx="604.65" cy="238.22" r="2.2" fill="#000"/>
<circle cx="621.60" cy="234.59" r="2.2" fill="#000"/>
<circle cx="638.55" cy="233.56" r="2.2" fill="#000"/>
<polyline points="536.85,295.20 553.80,279.14 570.75,262.31 587.70,248.06 604.65,239.00 621.60,234.85 638.55,233.56" fill="none" stroke="#1a3ad8" stroke-width="1.1"/>
<line x1="536.85" y1="290.54" x2="536.85" y2="299.86" stroke="#1a3ad8" stroke-width="1.0"/>
<line x1="535.05" y1="290.54" x2="538.65" y2="290.54" stroke="#1a3ad8" stroke-width="1.0"/>
<line x1="535.05" y1="299.86" x2="538.65" y2="299.86" stroke="#1a3ad8" stroke-width="1.0"/>
<path d="M534.45,293.20 L539.25,293.20 L536.85,297.60 Z" fill="#1a3ad8"/>
<line x1="553.80" y1="276.04" x2="553.80" y2="282.25" stroke="#1a3ad8" stroke-width="1.0"/>
<line x1="552.00" y1="276.04" x2="555.60" y2="276.04" stroke="#1a3ad8" stroke-width="1.0"/>
<line x1="552.00" y1="282.25" x2="555.60" y2="282.25" stroke="#1a3ad8" stroke-width="1.0"/>
<path d="M551.40,277.14 L556.20,277.14 L553.80,281.54 Z" fill="#1a3ad8"/>
<line x1="570.75" y1="260.24" x2="570.75" y2="264.38" stroke="#1a3ad8" stroke-width="1.0"/>
<line x1="568.95" y1="260.24" x2="572.55" y2="260.24" stroke="#1a3ad8" stroke-width="1.0"/>
<line x1="568.95" y1="264.38" x2="572.55" y2="264.38" stroke="#1a3ad8" stroke-width="1.0"/>
<path d="M568.35,260.31 L573.15,260.31 L570.75,264.71 Z" fill="#1a3ad8"/>
<line x1="587.70" y1="246.77" x2="587.70" y2="249.36" stroke="#1a3ad8" stroke-width="1.0"/>
<line x1="585.90" y1="246.77" x2="589.50" y2="246.77" stroke="#1a3ad8" stroke-width="1.0"/>
<line x1="585.90" y1="249.36" x2="589.50" y2="249.36" stroke="#1a3ad8" stroke-width="1.0"/>
<path d="M585.30,246.06 L590.10,246.06 L587.70,250.46 Z" fill="#1a3ad8"/>
<path d="M602.25,237.00 L607.05,237.00 L604.65,241.40 Z" fill="#1a3ad8"/>
<path d="M619.20,232.85 L624.00,232.85 L621.60,237.25 Z" fill="#1a3ad8"/>
<path d="M636.15,231.56 L640.95,231.56 L638.55,235.96 Z" fill="#1a3ad8"/>
<polyline points="536.85,269.30 553.80,257.13 570.75,247.29 587.70,239.00 604.65,235.11 621.60,233.82 638.55,233.30" fill="none" stroke="#ff2a00" stroke-width="1.1"/>
<line x1="536.85" y1="267.23" x2="536.85" y2="271.37" stroke="#ff2a00" stroke-width="1.0"/>
<line x1="535.05" y1="267.23" x2="538.65" y2="267.23" stroke="#ff2a00" stroke-width="1.0"/>
<line x1="535.05" y1="271.37" x2="538.65" y2="271.37" stroke="#ff2a00" stroke-width="1.0"/>
<rect x="534.65" y="267.10" width="4.40" height="4.40" fill="#ff2a00"/>
<line x1="553.80" y1="255.83" x2="553.80" y2="258.42" stroke="#ff2a00" stroke-width="1.0"/>
<line x1="552.00" y1="255.83" x2="555.60" y2="255.83" stroke="#ff2a00" stroke-width="1.0"/>
<line x1="552.00" y1="258.42" x2="555.60" y2="258.42" stroke="#ff2a00" stroke-width="1.0"/>
<rect x="551.60" y="254.93" width="4.40" height="4.40" fill="#ff2a00"/>
<line x1="570.75" y1="246.25" x2="570.75" y2="248.32" stroke="#ff2a00" stroke-width="1.0"/>
<line x1="568.95" y1="246.25" x2="572.55" y2="246.25" stroke="#ff2a00" stroke-width="1.0"/>
<line x1="568.95" y1="248.32" x2="572.55" y2="248.32" stroke="#ff2a00" stroke-width="1.0"/>
<circle cx="570.75" cy="247.29" r="2.5" fill="#ff2a00"/>
<circle cx="587.70" cy="239.00" r="2.5" fill="#ff2a00"/>
<circle cx="604.65" cy="235.11" r="2.5" fill="#ff2a00"/>
<circle cx="621.60" cy="233.82" r="2.5" fill="#ff2a00"/>
<circle cx="638.55" cy="233.30" r="2.5" fill="#ff2a00"/>
<text x="537.60" y="268.30" font-size="14" text-anchor="middle" fill="#000">*</text>
<text x="553.80" y="256.60" font-size="14" text-anchor="middle" fill="#000">*</text>
<text x="570.80" y="247.10" font-size="14" text-anchor="middle" fill="#000">*</text>
<text x="508.00" y="270.50" font-size="7.9" font-weight="normal" text-anchor="middle" fill="#ff2a00">Heart</text>
<text x="508.00" y="279.80" font-size="7.9" font-weight="normal" text-anchor="middle" fill="#ff2a00">failure</text>
<text x="508.20" y="294.60" font-size="7.9" font-weight="normal" text-anchor="middle" fill="#1a3ad8">Heart failure</text>
<text x="508.20" y="304.20" font-size="7.9" font-weight="normal" text-anchor="middle" fill="#1a3ad8">+antimiR</text>
<text x="508.40" y="320.40" font-size="7.9" font-weight="normal" text-anchor="middle" fill="#000">Control</text>
<text x="508.40" y="332.50" font-size="7.9" font-weight="normal" text-anchor="middle" fill="#d0d0d0">Control</text>
<text x="508.40" y="341.50" font-size="7.9" font-weight="normal" text-anchor="middle" fill="#d0d0d0">+antimiR</text>
<line x1="349.90" y1="167.30" x2="349.90" y2="199.70" stroke="#000" stroke-width="1.5"/>
<text x="345.30" y="184.00" font-size="7.4" font-weight="normal" text-anchor="middle" fill="#000" transform="rotate(-90 345.30 184.00)">20 pA/pF</text>
<text x="355.60" y="161.90" font-size="8.8" font-weight="normal" text-anchor="start" fill="#000">Control</text>
<text x="355.70" y="260.00" font-size="8.65" font-weight="normal" text-anchor="start" fill="#000">Heart failure</text>
<text x="380.40" y="323.70" font-size="8.65" font-weight="normal" text-anchor="middle" fill="#000">Heart failure</text>
<text x="380.40" y="334.70" font-size="8.65" font-weight="normal" text-anchor="middle" fill="#000">+antimiR</text>
<line x1="440.70" y1="376.30" x2="476.80" y2="376.30" stroke="#000" stroke-width="1.4"/>
<text x="459.40" y="386.20" font-size="8.8" font-weight="normal" text-anchor="middle" fill="#000">2 s</text>
<polyline points="356.60,167.24 357.30,167.09 358.00,167.54 358.70,167.02 359.40,167.43 360.10,167.28 360.80,167.00 361.50,167.41 362.20,166.98 362.90,167.34 363.60,167.01 364.30,167.03 365.00,167.33 365.70,167.69 366.40,167.06 367.10,167.15 367.80,167.51 368.50,167.80 369.20,167.47 369.90,167.31 370.60,167.83 371.30,166.99 372.00,167.72 372.70,167.21 373.40,167.08 374.10,167.06 374.80,167.23 375.50,167.68 376.20,167.11 376.90,167.47 377.60,167.53 378.30,167.29 379.00,167.44 379.70,167.01 380.40,167.00 381.10,167.14 381.80,167.56 382.50,167.33 383.20,167.23 383.90,167.48 384.60,167.36 385.30,167.22 386.00,167.66 386.70,167.58 387.40,167.17 388.10,167.47 388.80,167.42 389.50,167.74 390.20,167.61 390.90,167.21 391.60,167.83 392.30,167.06 393.00,167.33 393.70,167.63 394.40,167.09 395.10,167.39 395.80,166.99 396.50,167.55 397.20,167.64 397.90,167.47 398.60,167.74 399.30,167.23 400.00,167.58 400.70,167.48 401.40,167.47 402.10,167.36 402.80,167.71 403.50,167.80 404.20,167.38 404.90,167.55 405.60,167.00 406.30,167.58 407.00,167.53 407.70,167.84 408.40,167.69 409.10,167.21 409.80,167.30 410.50,167.55 411.20,166.97 411.90,167.37 412.60,167.10 413.30,167.06 414.00,167.00 414.70,167.64 415.40,167.07 416.10,167.17 416.80,167.30 417.50,167.73 418.20,167.02 418.90,167.35 419.60,167.44 420.30,167.75 421.00,167.69 421.70,167.73 422.40,167.20 423.10,167.32 423.80,167.27 424.50,167.75 425.20,167.81 425.90,167.09 426.60,167.11 427.30,167.16 428.00,167.16 428.70,167.39 429.40,167.48 430.10,167.19 430.80,166.95 431.50,167.33 432.20,167.28 432.90,167.46 433.60,167.81 434.30,167.57 435.00,167.41 435.70,167.51 436.40,167.56 437.10,167.00 437.80,167.76 438.50,167.65 439.20,167.74 439.90,167.67 440.60,167.30 441.30,167.31 442.00,167.04 442.70,167.52 443.40,167.01" fill="none" stroke="#000" stroke-width="4.0" stroke-linejoin="round"/>
<polyline points="443.60,167.05 444.30,167.17 445.00,167.13 445.70,167.27 446.40,167.04 447.10,167.00 447.80,167.12 448.50,167.08 449.20,167.29 449.90,167.02 450.60,167.70 451.30,167.49 452.00,167.12 452.70,167.20 453.40,167.28 454.10,167.29 454.80,167.10 455.50,167.68 456.20,167.79 456.90,167.37 457.60,167.39 458.30,167.07 459.00,167.08 459.70,167.27 460.40,167.21 461.10,167.66 461.80,167.13 462.50,167.02 463.20,167.76 463.90,167.42 464.60,167.12 465.30,167.43 466.00,167.02 466.70,167.42 467.40,167.78 468.10,167.69 468.80,167.56 469.50,167.21 470.20,167.29 470.90,167.13 471.60,167.62 472.30,167.43 473.00,167.62 473.70,167.26 474.40,167.18 475.10,167.65 475.80,167.79 476.50,167.68" fill="none" stroke="#000" stroke-width="3.4" stroke-linejoin="round"/>
<polyline points="358.60,168.21 359.30,168.22 360.00,168.17 360.70,167.81 361.40,174.29 362.10,182.85 362.80,189.04 363.50,193.81 364.20,197.55 364.90,200.21 365.60,202.55 366.30,204.30 367.00,205.15 367.70,206.44 368.40,207.24 369.10,207.83 369.80,207.92 370.50,208.25 371.20,208.61 371.90,208.91 372.60,209.19 373.30,209.72 374.00,210.14 374.70,210.29 375.40,210.22 376.10,210.51 376.80,210.77 377.50,210.41 378.20,210.95 378.90,211.25 379.60,211.28 380.30,211.37 381.00,211.28 381.70,211.17 382.40,211.69 383.10,211.45 383.80,211.86 384.50,212.06 385.20,211.73 385.90,211.80 386.60,212.25 387.30,212.15 388.00,211.82 388.70,211.84 389.40,211.91 390.10,212.49 390.80,212.46 391.50,212.04 392.20,212.56 392.90,212.71 393.60,212.52 394.30,212.33 395.00,212.50 395.70,212.24 396.40,212.19 397.10,212.89 397.80,212.69 398.50,212.62 399.20,212.93 399.90,212.60 400.60,212.93 401.30,212.92 402.00,212.50 402.70,212.55 403.40,212.59 404.10,212.57 404.80,212.83 405.50,212.61 406.20,212.74 406.90,212.55" fill="none" stroke="#000" stroke-width="2.1" stroke-linejoin="round"/>
<polyline points="358.60,168.29 359.30,167.90 360.00,167.97 360.70,168.06 361.40,171.24 362.10,175.23 362.80,179.03 363.50,181.50 364.20,183.75 364.90,185.55 365.60,186.66 366.30,188.16 367.00,188.97 367.70,189.68 368.40,190.93 369.10,191.08 369.80,191.80 370.50,192.41 371.20,192.67 371.90,192.84 372.60,193.27 373.30,193.56 374.00,193.96 374.70,193.70 375.40,194.21 376.10,194.18 376.80,194.36 377.50,194.86 378.20,194.82 378.90,194.98 379.60,195.25 380.30,195.47 381.00,195.24 381.70,195.46 382.40,195.48 383.10,195.57 383.80,195.78 384.50,195.69 385.20,195.82 385.90,195.85 386.60,196.24 387.30,196.13 388.00,196.31 388.70,196.41 389.40,195.99 390.10,196.24 390.80,196.56 391.50,196.53 392.20,196.08 392.90,196.10 393.60,196.36 394.30,196.14 395.00,196.29 395.70,196.20 396.40,196.65 397.10,196.75 397.80,196.86 398.50,196.36 399.20,196.78 399.90,196.76 400.60,196.42 401.30,196.95 402.00,197.03 402.70,196.53 403.40,197.05 404.10,196.68 404.80,196.76 405.50,197.12 406.20,197.02 406.90,196.57 407.60,196.77 408.30,196.84 409.00,196.72 409.70,196.63 410.40,196.73 411.10,197.02 411.80,196.53 412.50,196.91 413.20,196.84 413.90,196.55 414.60,196.78 415.30,196.99 416.00,196.92" fill="none" stroke="#000" stroke-width="2.1" stroke-linejoin="round"/>
<polyline points="358.60,167.70 359.30,168.34 360.00,168.20 360.70,168.33 361.40,168.83 362.10,170.66 362.80,171.98 363.50,173.76 364.20,174.50 364.90,175.34 365.60,176.36 366.30,177.42 367.00,177.97 367.70,178.12 368.40,178.52 369.10,179.48 369.80,179.60 370.50,180.03 371.20,179.89 371.90,180.13 372.60,180.81 373.30,180.84 374.00,180.79 374.70,181.57 375.40,181.52 376.10,181.79 376.80,181.42 377.50,182.09 378.20,181.65 378.90,182.32 379.60,182.14 380.30,182.15 381.00,182.39 381.70,182.73 382.40,182.35 383.10,182.33 383.80,182.67 384.50,182.54 385.20,182.51 385.90,182.60 386.60,182.58 387.30,182.74 388.00,182.86 388.70,182.91 389.40,183.27 390.10,182.98 390.80,183.17 391.50,182.98 392.20,183.14 392.90,182.94 393.60,183.14 394.30,183.01 395.00,183.54 395.70,183.44 396.40,183.21 397.10,183.44 397.80,183.79 398.50,183.23 399.20,183.75 399.90,183.50 400.60,183.57 401.30,183.83 402.00,183.53 402.70,183.63 403.40,183.78 404.10,184.00 404.80,183.57 405.50,183.92 406.20,183.85 406.90,183.81 407.60,183.66 408.30,183.64 409.00,183.44 409.70,183.51 410.40,183.48 411.10,183.96 411.80,183.63 412.50,183.57 413.20,183.52 413.90,184.06 414.60,184.09 415.30,183.96 416.00,183.69 416.70,183.67 417.40,183.72 418.10,183.84 418.80,183.63 419.50,183.84 420.20,183.72 420.90,184.21 421.60,184.23 422.30,183.93 423.00,183.72 423.70,184.23 424.40,183.78 425.10,183.82" fill="none" stroke="#000" stroke-width="2.1" stroke-linejoin="round"/>
<polyline points="358.60,167.65 359.30,167.92 360.00,167.98 360.70,168.00 361.40,168.14 362.10,168.91 362.80,169.06 363.50,169.68 364.20,169.96 364.90,170.53 365.60,170.61 366.30,170.88 367.00,171.35 367.70,171.54 368.40,172.00 369.10,172.16 369.80,172.50 370.50,172.60 371.20,172.79 371.90,173.05 372.60,172.84 373.30,172.92 374.00,173.49 374.70,173.01 375.40,173.51 376.10,173.55 376.80,173.22 377.50,173.85 378.20,173.97 378.90,173.86 379.60,174.00 380.30,174.12 381.00,173.71 381.70,174.04 382.40,174.08 383.10,174.37 383.80,174.40 384.50,174.46 385.20,174.34 385.90,174.60 386.60,174.49 387.30,174.54 388.00,174.26 388.70,174.16 389.40,174.26 390.10,174.46 390.80,174.31 391.50,174.86 392.20,174.69 392.90,174.77 393.60,174.80 394.30,174.87 395.00,174.76 395.70,174.44 396.40,175.02 397.10,175.01 397.80,174.86 398.50,174.91 399.20,175.02 399.90,174.62 400.60,175.11 401.30,174.79 402.00,174.69 402.70,174.84 403.40,175.18 404.10,174.83 404.80,175.22 405.50,175.40 406.20,175.08 406.90,175.01 407.60,175.10 408.30,175.25 409.00,175.32 409.70,175.23 410.40,175.26 411.10,174.88 411.80,174.94 412.50,175.02 413.20,175.38 413.90,175.08 414.60,175.27 415.30,174.89 416.00,174.94 416.70,175.09 417.40,175.38 418.10,175.40 418.80,175.40 419.50,175.14 420.20,175.30 420.90,175.28 421.60,175.28 422.30,175.05 423.00,175.60 423.70,175.12 424.40,175.67 425.10,175.64 425.80,175.01 426.50,175.32 427.20,175.58 427.90,175.69 428.60,175.33 429.30,175.21 430.00,175.17 430.70,175.69 431.40,175.18 432.10,175.44 432.80,175.14 433.50,175.41 434.20,175.71" fill="none" stroke="#000" stroke-width="2.1" stroke-linejoin="round"/>
<polyline points="407.00,134.28 407.80,135.37 408.60,135.85 409.40,136.72 410.20,137.23 411.00,137.55 411.80,138.53 412.60,138.85 413.40,139.12 414.20,139.64 415.00,140.45 415.80,140.93 416.60,141.33 417.40,141.70 418.20,142.28 419.00,142.71 419.80,143.45 420.60,143.37 421.40,144.22 422.20,144.66 423.00,144.61 423.80,145.46 424.60,145.69 425.40,146.15 426.20,146.12 427.00,146.50 427.80,146.83 428.60,147.50 429.40,147.55 430.20,147.70 431.00,148.02 431.80,148.20 432.60,148.32 433.40,148.61 434.20,149.30 435.00,149.21 435.80,149.83 436.60,149.64 437.40,149.87 438.20,150.23 439.00,150.24 439.80,150.55 440.60,151.09 441.40,151.24 442.20,151.38 443.00,151.44" fill="none" stroke="#000" stroke-width="2.0" stroke-linejoin="round"/>
<polyline points="415.80,141.46 415.80,134.30 416.05,136.07 416.30,137.44 416.55,138.52 416.80,139.37 417.05,140.05 417.30,140.60 417.55,141.05 417.80,141.43 418.05,141.74 418.30,142.02 418.55,142.26 418.80,142.47 419.05,142.67 419.30,142.84 419.55,143.01 419.80,143.17 420.05,143.32" fill="none" stroke="#000" stroke-width="1.15" stroke-linejoin="round"/>
<polyline points="425.10,146.28 425.10,139.00 425.35,140.75 425.60,142.11 425.85,143.15 426.10,143.97 426.35,144.62 426.60,145.13 426.85,145.54 427.10,145.88 427.35,146.16 427.60,146.39 427.85,146.59 428.10,146.76 428.35,146.92 428.60,147.06 428.85,147.19 429.10,147.30 429.35,147.41" fill="none" stroke="#000" stroke-width="1.15" stroke-linejoin="round"/>
<polyline points="434.50,149.69 434.50,146.60 434.75,147.37 435.00,147.95 435.25,148.40 435.50,148.74 435.75,149.01 436.00,149.23 436.25,149.41 436.50,149.55 436.75,149.68 437.00,149.79 437.25,149.89 437.50,149.98 437.75,150.06 438.00,150.14 438.25,150.21" fill="none" stroke="#000" stroke-width="1.15" stroke-linejoin="round"/>
<line x1="407.00" y1="150.50" x2="407.00" y2="153.00" stroke="#000" stroke-width="1.1" stroke-dasharray="1,2.6"/>
<line x1="415.80" y1="149.00" x2="415.80" y2="156.00" stroke="#000" stroke-width="1.1" stroke-dasharray="1,2.6"/>
<line x1="425.10" y1="148.00" x2="425.10" y2="160.00" stroke="#000" stroke-width="1.1" stroke-dasharray="1,2.6"/>
<line x1="434.50" y1="151.00" x2="434.50" y2="160.00" stroke="#000" stroke-width="1.1" stroke-dasharray="1,2.6"/>
<line x1="443.40" y1="158.00" x2="443.40" y2="164.00" stroke="#000" stroke-width="1.1" stroke-dasharray="1,2.6"/>
<line x1="443.40" y1="170.00" x2="443.40" y2="178.00" stroke="#000" stroke-width="1.1" stroke-dasharray="1,2.6"/>
<line x1="452.60" y1="169.00" x2="452.60" y2="172.00" stroke="#000" stroke-width="1.1" stroke-dasharray="1,2.6"/>
<line x1="461.90" y1="169.00" x2="461.90" y2="172.00" stroke="#000" stroke-width="1.1" stroke-dasharray="1,2.6"/>
<line x1="471.40" y1="169.00" x2="471.40" y2="172.00" stroke="#000" stroke-width="1.1" stroke-dasharray="1,2.6"/>
<line x1="425.40" y1="184.50" x2="425.40" y2="186.00" stroke="#000" stroke-width="1.1" stroke-dasharray="1,2.6"/>
<line x1="434.60" y1="176.50" x2="434.60" y2="187.00" stroke="#000" stroke-width="1.1" stroke-dasharray="1,2.6"/>
<line x1="443.60" y1="171.50" x2="443.60" y2="186.00" stroke="#000" stroke-width="1.1" stroke-dasharray="1,2.6"/>
<line x1="452.70" y1="170.00" x2="452.70" y2="186.00" stroke="#000" stroke-width="1.1" stroke-dasharray="1,2.6"/>
<line x1="416.20" y1="198.00" x2="416.20" y2="201.00" stroke="#000" stroke-width="1.1" stroke-dasharray="1,2.6"/>
<line x1="407.00" y1="214.00" x2="407.00" y2="216.00" stroke="#000" stroke-width="1.1" stroke-dasharray="1,2.6"/>
<polyline points="443.30,152.00 443.30,155.00 452.50,154.80 461.90,154.40" fill="none" stroke="#000" stroke-width="1.8" stroke-linejoin="round"/>
<polyline points="452.50,154.80 452.50,161.80" fill="none" stroke="#000" stroke-width="1.4" stroke-linejoin="round"/>
<polyline points="461.90,154.40 461.90,156.60 471.40,156.60 471.40,160.00" fill="none" stroke="#000" stroke-width="1.8" stroke-linejoin="round"/>
<line x1="461.90" y1="156.60" x2="461.90" y2="158.50" stroke="#000" stroke-width="1.3"/>
<polyline points="406.60,264.70 406.60,248.00 407.00,249.03 407.50,250.12 408.00,251.00 408.50,251.73 409.00,252.32 409.50,252.81 410.00,253.20 410.50,253.53 411.00,253.80 411.50,254.01 412.00,254.19 412.50,254.34 413.00,254.46 413.50,254.56 414.00,254.64 414.50,254.70 415.00,254.76 415.50,254.80 416.00,254.84" fill="none" stroke="#000" stroke-width="1.4" stroke-linejoin="round"/>
<polyline points="416.40,264.70 416.40,249.50 416.80,250.46 417.30,251.47 417.80,252.29 418.30,252.96 418.80,253.51 419.30,253.96 419.80,254.33 420.30,254.63 420.80,254.88 421.30,255.08 421.80,255.25 422.30,255.39 422.80,255.50 423.30,255.59 423.80,255.66 424.30,255.72 424.80,255.77 425.30,255.82 425.80,255.85" fill="none" stroke="#000" stroke-width="1.4" stroke-linejoin="round"/>
<polyline points="425.90,264.70 425.90,251.00 426.30,251.86 426.80,252.75 427.30,253.49 427.80,254.09 428.30,254.58 428.80,254.98 429.30,255.31 429.80,255.58 430.30,255.80 430.80,255.98 431.30,256.13 431.80,256.25 432.30,256.35 432.80,256.43 433.30,256.50 433.80,256.55 434.30,256.60 434.80,256.64" fill="none" stroke="#000" stroke-width="1.4" stroke-linejoin="round"/>
<polyline points="434.80,264.70 434.80,253.70 435.20,254.26 435.70,254.85 436.20,255.33 436.70,255.72 437.20,256.05 437.70,256.31 438.20,256.52 438.70,256.70 439.20,256.85 439.70,256.96 440.20,257.06 440.70,257.14 441.20,257.21 441.70,257.26 442.20,257.30 442.70,257.34 443.20,257.37 443.70,257.39" fill="none" stroke="#000" stroke-width="1.4" stroke-linejoin="round"/>
<polyline points="356.60,266.07 357.30,266.10 358.00,265.74 358.70,265.90 359.40,265.29 360.10,265.91 360.80,265.66 361.50,265.93 362.20,265.83 362.90,265.51 363.60,265.29 364.30,266.08 365.00,265.36 365.70,265.67 366.40,265.56 367.10,265.52 367.80,265.92 368.50,266.13 369.20,265.48 369.90,265.84 370.60,265.52 371.30,265.75 372.00,265.60 372.70,265.40 373.40,265.40 374.10,265.44 374.80,266.07 375.50,265.70 376.20,265.45 376.90,266.07 377.60,266.15 378.30,265.65 379.00,265.38 379.70,265.42 380.40,265.33 381.10,265.56 381.80,265.33 382.50,265.47 383.20,265.48 383.90,265.76 384.60,266.05 385.30,265.92 386.00,265.62 386.70,265.62 387.40,265.72 388.10,265.59 388.80,265.55 389.50,265.31 390.20,265.50 390.90,266.12 391.60,265.36 392.30,265.70 393.00,265.82 393.70,266.03 394.40,265.44 395.10,265.49 395.80,265.47 396.50,265.61 397.20,265.65 397.90,266.11 398.60,266.01 399.30,266.04 400.00,265.27 400.70,265.28 401.40,265.89 402.10,266.06 402.80,265.68 403.50,265.78 404.20,265.25 404.90,265.60 405.60,266.08 406.30,265.99 407.00,266.02 407.70,266.13 408.40,265.47 409.10,265.35 409.80,265.39 410.50,265.72 411.20,265.86 411.90,266.10 412.60,265.90 413.30,265.83 414.00,265.94 414.70,265.66 415.40,265.75 416.10,265.29 416.80,265.95 417.50,265.46 418.20,266.08 418.90,265.83 419.60,265.52 420.30,265.37 421.00,265.48 421.70,265.82 422.40,265.88 423.10,265.35 423.80,265.31 424.50,265.72 425.20,265.77 425.90,265.60 426.60,265.45 427.30,265.79 428.00,265.26 428.70,265.52 429.40,265.66 430.10,266.11 430.80,265.83 431.50,266.05 432.20,265.68 432.90,265.46 433.60,265.47 434.30,266.11 435.00,265.88 435.70,265.53 436.40,265.27 437.10,265.70 437.80,265.86 438.50,265.63 439.20,265.48 439.90,265.85 440.60,266.08 441.30,265.45 442.00,265.28 442.70,265.55 443.40,265.63" fill="none" stroke="#000" stroke-width="4.0" stroke-linejoin="round"/>
<polyline points="443.60,265.85 444.30,265.46 445.00,265.94 445.70,265.89 446.40,265.70 447.10,265.46 447.80,266.08 448.50,265.55 449.20,265.96 449.90,265.48 450.60,265.48 451.30,265.91 452.00,265.54 452.70,266.06 453.40,265.70 454.10,265.45 454.80,265.48 455.50,265.63 456.20,265.83 456.90,266.06 457.60,265.42 458.30,265.61 459.00,265.47 459.70,266.08 460.40,265.41 461.10,265.34 461.80,265.35 462.50,265.61 463.20,266.02 463.90,266.01 464.60,265.89 465.30,266.10 466.00,266.05 466.70,265.56 467.40,265.45 468.10,266.05 468.80,265.90 469.50,265.33 470.20,265.83 470.90,265.60 471.60,265.60 472.30,265.57 473.00,265.44 473.70,265.30 474.40,265.52 475.10,265.58 475.80,266.06 476.50,265.40" fill="none" stroke="#000" stroke-width="3.4" stroke-linejoin="round"/>
<polyline points="358.60,269.98 359.30,272.72 360.00,275.38 360.70,277.71 361.40,279.30 362.10,280.30 362.80,281.05 363.50,282.18 364.20,282.80 364.90,283.76 365.60,283.75 366.30,284.29 367.00,285.03 367.70,284.75 368.40,285.30 369.10,285.85 369.80,286.05 370.50,285.77 371.20,285.96 371.90,286.17 372.60,286.95 373.30,286.65 374.00,287.15 374.70,287.40 375.40,287.15 376.10,287.24 376.80,287.84 377.50,287.72 378.20,287.59 378.90,288.01 379.60,287.84 380.30,287.91 381.00,287.81 381.70,288.42 382.40,288.62 383.10,288.50 383.80,288.80 384.50,288.23 385.20,288.45 385.90,288.68 386.60,289.08 387.30,289.14 388.00,288.80 388.70,288.76 389.40,288.94 390.10,289.04 390.80,289.39 391.50,288.91 392.20,289.39 392.90,289.39 393.60,289.49 394.30,289.49 395.00,289.41 395.70,289.25 396.40,289.28 397.10,289.34 397.80,289.66 398.50,289.20 399.20,289.31 399.90,289.73 400.60,289.40 401.30,289.29 402.00,289.29 402.70,289.68 403.40,289.54 404.10,290.02 404.80,289.97 405.50,290.06 406.20,289.57" fill="none" stroke="#000" stroke-width="2.1" stroke-linejoin="round"/>
<polyline points="358.60,267.97 359.30,270.08 360.00,272.09 360.70,273.66 361.40,274.67 362.10,275.52 362.80,276.49 363.50,277.35 364.20,278.00 364.90,278.59 365.60,279.13 366.30,279.41 367.00,279.40 367.70,280.23 368.40,280.14 369.10,280.61 369.80,280.72 370.50,281.20 371.20,281.03 371.90,281.26 372.60,281.44 373.30,281.55 374.00,282.22 374.70,282.16 375.40,282.13 376.10,282.31 376.80,282.86 377.50,282.64 378.20,282.56 378.90,283.07 379.60,283.07 380.30,283.40 381.00,282.87 381.70,283.22 382.40,283.55 383.10,283.65 383.80,283.78 384.50,283.24 385.20,283.49 385.90,283.43 386.60,283.54 387.30,284.15 388.00,283.94 388.70,284.24 389.40,283.90 390.10,284.30 390.80,284.05 391.50,283.97 392.20,284.37 392.90,284.53 393.60,283.99 394.30,284.37 395.00,284.42 395.70,284.17 396.40,284.31 397.10,284.18 397.80,284.26 398.50,284.32 399.20,284.59 399.90,284.66 400.60,284.37 401.30,284.26 402.00,284.50 402.70,284.77 403.40,284.44 404.10,284.55 404.80,284.49 405.50,284.93 406.20,284.77 406.90,284.45 407.60,284.49 408.30,284.71 409.00,284.83 409.70,284.91 410.40,284.54 411.10,284.60 411.80,284.99 412.50,284.80 413.20,284.72 413.90,284.75 414.60,285.21 415.30,284.77 416.00,284.96" fill="none" stroke="#000" stroke-width="2.1" stroke-linejoin="round"/>
<polyline points="358.60,266.91 359.30,267.88 360.00,269.01 360.70,269.81 361.40,269.99 362.10,270.42 362.80,271.28 363.50,271.34 364.20,271.59 364.90,272.56 365.60,272.54 366.30,273.10 367.00,273.06 367.70,273.63 368.40,273.55 369.10,273.54 369.80,273.62 370.50,274.17 371.20,274.39 371.90,274.73 372.60,274.29 373.30,274.80 374.00,274.75 374.70,274.96 375.40,274.82 376.10,275.02 376.80,275.28 377.50,275.66 378.20,275.18 378.90,275.53 379.60,275.83 380.30,276.02 381.00,275.56 381.70,275.58 382.40,276.22 383.10,276.31 383.80,276.03 384.50,275.79 385.20,276.46 385.90,276.14 386.60,276.55 387.30,276.40 388.00,276.60 388.70,276.18 389.40,276.66 390.10,276.31 390.80,276.48 391.50,276.83 392.20,276.86 392.90,276.44 393.60,276.50 394.30,276.66 395.00,276.78 395.70,276.72 396.40,276.57 397.10,276.68 397.80,277.04 398.50,277.19 399.20,276.62 399.90,277.01 400.60,277.17 401.30,276.69 402.00,277.27 402.70,276.79 403.40,277.15 404.10,277.13 404.80,277.21 405.50,277.00 406.20,277.10 406.90,277.23 407.60,277.13 408.30,277.31 409.00,277.18 409.70,277.19 410.40,276.91 411.10,277.34 411.80,277.27 412.50,277.10 413.20,277.48 413.90,277.50 414.60,277.29 415.30,277.11 416.00,277.32 416.70,277.08 417.40,277.10 418.10,277.32 418.80,277.09 419.50,277.35 420.20,277.40 420.90,277.08 421.60,277.51 422.30,277.12 423.00,277.59 423.70,277.63 424.40,277.45 425.10,277.13 425.80,277.45" fill="none" stroke="#000" stroke-width="2.1" stroke-linejoin="round"/>
<polyline points="358.60,266.39 359.30,267.19 360.00,266.98 360.70,267.82 361.40,268.22 362.10,268.32 362.80,268.63 363.50,268.44 364.20,269.21 364.90,269.07 365.60,269.59 366.30,269.74 367.00,269.38 367.70,269.98 368.40,270.22 369.10,269.76 369.80,270.09 370.50,270.50 371.20,270.20 371.90,270.83 372.60,270.50 373.30,270.98 374.00,270.61 374.70,270.96 375.40,271.34 376.10,270.93 376.80,271.05 377.50,271.30 378.20,271.24 378.90,271.12 379.60,271.29 380.30,271.34 381.00,271.95 381.70,271.84 382.40,272.05 383.10,271.60 383.80,272.09 384.50,271.67 385.20,272.02 385.90,272.14 386.60,272.00 387.30,272.40 388.00,272.23 388.70,272.29 389.40,272.54 390.10,272.04 390.80,272.70 391.50,272.49 392.20,272.36 392.90,272.68 393.60,272.34 394.30,272.89 395.00,272.63 395.70,272.51 396.40,272.82 397.10,272.63 397.80,272.47 398.50,272.90 399.20,272.44 399.90,273.00 400.60,272.63 401.30,272.93 402.00,273.19 402.70,272.94 403.40,273.02 404.10,272.79 404.80,272.60 405.50,272.64 406.20,272.74 406.90,273.09 407.60,272.98 408.30,273.05 409.00,273.34 409.70,272.82 410.40,272.90 411.10,273.21 411.80,272.79 412.50,272.79 413.20,273.05 413.90,272.89 414.60,273.08 415.30,273.00 416.00,273.26 416.70,273.28 417.40,273.02 418.10,273.33 418.80,273.24 419.50,273.01 420.20,273.58 420.90,273.11 421.60,273.05 422.30,273.02 423.00,273.41 423.70,273.58 424.40,273.53 425.10,273.27 425.80,273.18 426.50,273.01 427.20,273.46 427.90,273.41 428.60,273.27 429.30,273.49 430.00,273.35 430.70,273.70 431.40,273.57 432.10,273.23 432.80,273.70 433.50,273.10 434.20,273.45" fill="none" stroke="#000" stroke-width="2.1" stroke-linejoin="round"/>
<polyline points="358.60,266.11 359.30,266.07 360.00,266.02 360.70,266.60 361.40,266.14 362.10,266.59 362.80,266.93 363.50,266.44 364.20,266.55 364.90,266.90 365.60,266.89 366.30,267.05 367.00,267.23 367.70,266.84 368.40,266.99 369.10,267.04 369.80,266.91 370.50,267.55 371.20,267.53 371.90,267.53 372.60,267.08 373.30,267.71 374.00,267.69 374.70,267.54 375.40,267.77 376.10,267.61 376.80,267.49 377.50,267.45 378.20,267.58 378.90,267.48 379.60,267.72 380.30,268.05 381.00,268.04 381.70,268.18 382.40,268.12 383.10,267.84 383.80,268.07 384.50,268.02 385.20,268.29 385.90,268.13 386.60,267.98 387.30,268.27 388.00,268.52 388.70,268.02 389.40,268.51 390.10,267.93 390.80,268.12 391.50,268.13 392.20,268.51 392.90,268.67 393.60,268.55 394.30,268.28 395.00,268.68 395.70,268.32 396.40,268.27 397.10,268.76 397.80,268.58 398.50,268.64 399.20,268.64 399.90,268.87 400.60,268.53 401.30,268.81 402.00,268.72 402.70,268.85 403.40,268.57 404.10,268.78 404.80,268.69 405.50,268.52 406.20,268.46 406.90,268.76 407.60,268.39 408.30,268.99 409.00,268.46 409.70,268.39 410.40,268.46 411.10,269.04 411.80,268.64 412.50,268.51 413.20,268.44 413.90,268.46 414.60,268.92 415.30,268.89 416.00,268.94 416.70,268.98 417.40,268.52 418.10,268.89 418.80,268.74 419.50,269.07 420.20,269.07 420.90,269.13 421.60,268.56 422.30,269.13 423.00,269.17 423.70,269.19 424.40,268.61 425.10,268.69 425.80,268.63 426.50,268.58 427.20,269.16 427.90,269.14 428.60,269.02 429.30,269.15 430.00,269.02 430.70,268.79 431.40,268.66 432.10,268.66 432.80,269.13 433.50,268.75 434.20,268.83 434.90,268.91 435.60,268.63 436.30,268.80 437.00,268.82 437.70,269.13 438.40,268.89 439.10,268.86 439.80,269.31 440.50,268.99 441.20,269.24 441.90,269.08 442.60,268.67 443.30,268.94 444.00,268.96" fill="none" stroke="#000" stroke-width="2.1" stroke-linejoin="round"/>
<polyline points="444.00,264.70 444.00,257.20 453.10,257.20 453.10,264.70" fill="none" stroke="#000" stroke-width="1.3" stroke-linejoin="round"/>
<polyline points="453.10,264.70 453.10,258.00 462.40,258.00 462.40,264.70" fill="none" stroke="#000" stroke-width="1.3" stroke-linejoin="round"/>
<polyline points="462.40,264.70 462.40,258.60 471.50,258.60 471.50,264.70" fill="none" stroke="#000" stroke-width="1.3" stroke-linejoin="round"/>
<line x1="406.60" y1="289.00" x2="406.60" y2="296.00" stroke="#000" stroke-width="1.1" stroke-dasharray="1,2.6"/>
<line x1="416.40" y1="285.00" x2="416.40" y2="292.50" stroke="#000" stroke-width="1.1" stroke-dasharray="1,2.6"/>
<line x1="425.90" y1="277.50" x2="425.90" y2="288.00" stroke="#000" stroke-width="1.1" stroke-dasharray="1,2.6"/>
<line x1="434.80" y1="273.00" x2="434.80" y2="284.00" stroke="#000" stroke-width="1.1" stroke-dasharray="1,2.6"/>
<line x1="444.00" y1="269.00" x2="444.00" y2="279.50" stroke="#000" stroke-width="1.1" stroke-dasharray="1,2.6"/>
<line x1="453.10" y1="267.00" x2="453.10" y2="272.50" stroke="#000" stroke-width="1.1" stroke-dasharray="1,2.6"/>
<polyline points="356.60,340.85 357.30,340.46 358.00,340.78 358.70,340.63 359.40,340.34 360.10,340.93 360.80,340.23 361.50,340.89 362.20,340.30 362.90,340.15 363.60,340.33 364.30,340.84 365.00,341.03 365.70,340.15 366.40,340.59 367.10,340.59 367.80,340.87 368.50,340.32 369.20,340.60 369.90,340.46 370.60,340.90 371.30,340.38 372.00,341.00 372.70,340.41 373.40,340.34 374.10,340.78 374.80,340.60 375.50,340.25 376.20,340.72 376.90,340.22 377.60,340.86 378.30,340.78 379.00,340.86 379.70,340.72 380.40,340.47 381.10,340.51 381.80,340.51 382.50,340.95 383.20,340.23 383.90,340.95 384.60,340.17 385.30,340.34 386.00,340.39 386.70,340.96 387.40,340.60 388.10,340.49 388.80,340.95 389.50,340.36 390.20,340.56 390.90,340.63 391.60,340.83 392.30,340.83 393.00,340.73 393.70,340.46 394.40,340.44 395.10,340.29 395.80,340.91 396.50,340.75 397.20,340.82 397.90,340.30 398.60,340.54 399.30,340.85 400.00,340.67 400.70,340.26 401.40,340.57 402.10,340.95 402.80,340.36 403.50,340.32 404.20,340.42 404.90,340.78 405.60,340.91 406.30,340.29 407.00,340.29 407.70,340.37 408.40,340.44 409.10,340.62 409.80,340.29 410.50,340.45 411.20,340.32 411.90,341.03 412.60,340.81 413.30,340.24 414.00,341.02 414.70,340.24 415.40,340.50 416.10,341.04 416.80,340.87 417.50,340.81 418.20,340.54 418.90,340.33 419.60,340.72 420.30,340.25 421.00,340.34 421.70,340.50 422.40,340.18 423.10,340.51 423.80,340.86 424.50,340.77 425.20,340.60 425.90,340.72 426.60,340.57 427.30,340.28 428.00,340.69 428.70,340.51 429.40,340.82 430.10,340.97 430.80,340.54 431.50,340.67 432.20,340.82 432.90,340.53 433.60,340.36 434.30,340.80 435.00,340.94 435.70,340.85 436.40,340.78 437.10,340.92 437.80,340.76 438.50,340.73 439.20,340.56 439.90,340.43 440.60,340.72 441.30,340.24 442.00,340.53 442.70,340.85 443.40,340.79" fill="none" stroke="#000" stroke-width="4.0" stroke-linejoin="round"/>
<polyline points="443.60,340.70 444.30,340.40 445.00,340.54 445.70,340.56 446.40,340.70 447.10,340.53 447.80,340.74 448.50,340.94 449.20,340.35 449.90,340.72 450.60,340.82 451.30,340.51 452.00,340.59 452.70,340.98 453.40,340.23 454.10,340.63 454.80,340.33 455.50,340.83 456.20,340.95 456.90,340.62 457.60,340.28 458.30,340.66 459.00,340.63 459.70,340.77 460.40,340.61 461.10,340.71 461.80,340.86 462.50,340.62 463.20,340.53 463.90,340.96 464.60,340.37 465.30,340.75 466.00,340.51 466.70,340.81 467.40,340.30 468.10,340.99 468.80,340.48 469.50,340.25 470.20,340.42 470.90,340.52 471.60,340.21 472.30,340.53 473.00,340.54 473.70,340.76 474.40,340.48 475.10,340.41 475.80,340.38 476.50,340.79" fill="none" stroke="#000" stroke-width="3.4" stroke-linejoin="round"/>
<polyline points="358.60,341.31 359.30,344.26 360.00,350.48 360.70,356.02 361.40,359.84 362.10,362.99 362.80,365.56 363.50,368.13 364.20,369.85 364.90,371.10 365.60,372.10 366.30,373.07 367.00,373.58 367.70,374.71 368.40,374.79 369.10,375.41 369.80,375.89 370.50,376.18 371.20,376.20 371.90,376.29 372.60,376.66 373.30,376.53 374.00,377.17 374.70,376.97 375.40,377.43 376.10,377.13 376.80,377.30 377.50,377.30 378.20,377.50 378.90,377.41 379.60,377.35 380.30,377.92 381.00,377.67 381.70,377.70 382.40,377.80 383.10,377.97 383.80,377.98 384.50,378.18 385.20,378.23 385.90,378.07 386.60,378.50 387.30,378.49 388.00,377.96 388.70,378.54 389.40,378.62 390.10,378.57 390.80,378.15 391.50,378.66 392.20,378.55 392.90,378.14 393.60,378.16 394.30,378.84 395.00,378.66 395.70,378.39 396.40,378.31 397.10,378.36 397.80,378.44 398.50,378.83 399.20,378.55 399.90,378.43 400.60,378.97 401.30,378.91 402.00,378.48 402.70,379.00 403.40,378.82 404.10,378.95 404.80,378.88 405.50,379.05 406.20,378.99 406.90,379.03" fill="none" stroke="#000" stroke-width="2.1" stroke-linejoin="round"/>
<polyline points="358.60,340.79 359.30,342.90 360.00,346.38 360.70,349.51 361.40,351.77 362.10,354.14 362.80,355.63 363.50,356.86 364.20,358.04 364.90,358.99 365.60,360.10 366.30,360.52 367.00,361.42 367.70,361.73 368.40,362.42 369.10,362.82 369.80,363.19 370.50,363.72 371.20,363.38 371.90,364.20 372.60,364.14 373.30,364.39 374.00,364.63 374.70,364.91 375.40,364.72 376.10,364.87 376.80,365.37 377.50,364.85 378.20,365.34 378.90,365.44 379.60,365.09 380.30,365.58 381.00,365.71 381.70,365.95 382.40,365.60 383.10,366.11 383.80,365.84 384.50,365.88 385.20,366.22 385.90,365.67 386.60,366.19 387.30,366.17 388.00,366.01 388.70,366.42 389.40,366.11 390.10,366.22 390.80,366.30 391.50,366.50 392.20,366.14 392.90,366.33 393.60,366.35 394.30,366.47 395.00,366.68 395.70,366.33 396.40,366.73 397.10,366.46 397.80,366.55 398.50,366.41 399.20,366.59 399.90,366.94 400.60,366.73 401.30,366.85 402.00,366.54 402.70,366.55 403.40,366.55 404.10,366.76 404.80,366.81 405.50,366.93 406.20,366.42 406.90,366.91 407.60,367.03 408.30,366.81 409.00,366.47 409.70,366.66 410.40,366.46 411.10,366.60 411.80,367.12 412.50,366.91 413.20,366.95 413.90,367.05 414.60,367.14 415.30,366.94 416.00,366.95" fill="none" stroke="#000" stroke-width="2.1" stroke-linejoin="round"/>
<polyline points="358.60,341.09 359.30,341.94 360.00,343.55 360.70,345.04 361.40,345.93 362.10,347.30 362.80,348.05 363.50,349.04 364.20,349.25 364.90,349.89 365.60,350.29 366.30,351.25 367.00,351.73 367.70,351.89 368.40,351.99 369.10,352.57 369.80,352.78 370.50,352.84 371.20,352.82 371.90,353.02 372.60,353.26 373.30,353.33 374.00,353.54 374.70,353.81 375.40,354.13 376.10,353.62 376.80,354.07 377.50,353.79 378.20,353.93 378.90,354.49 379.60,354.40 380.30,354.71 381.00,354.45 381.70,354.21 382.40,354.53 383.10,354.73 383.80,355.03 384.50,355.11 385.20,354.80 385.90,354.80 386.60,354.63 387.30,355.05 388.00,354.79 388.70,354.79 389.40,354.73 390.10,354.76 390.80,355.27 391.50,354.91 392.20,355.53 392.90,354.95 393.60,355.53 394.30,355.04 395.00,354.98 395.70,355.50 396.40,355.19 397.10,355.56 397.80,355.20 398.50,355.13 399.20,355.66 399.90,355.63 400.60,355.75 401.30,355.68 402.00,355.25 402.70,355.65 403.40,355.72 404.10,355.56 404.80,355.91 405.50,355.45 406.20,355.96 406.90,355.80 407.60,355.32 408.30,355.34 409.00,355.79 409.70,355.92 410.40,355.42 411.10,355.59 411.80,355.89 412.50,355.51 413.20,356.01 413.90,355.75 414.60,355.46 415.30,355.69 416.00,355.84 416.70,355.75 417.40,355.93 418.10,355.56 418.80,356.03 419.50,355.73 420.20,355.93 420.90,355.93 421.60,355.79 422.30,355.77 423.00,356.06 423.70,356.17 424.40,356.07 425.10,355.92" fill="none" stroke="#000" stroke-width="2.1" stroke-linejoin="round"/>
<polyline points="358.60,340.85 359.30,340.98 360.00,342.23 360.70,342.58 361.40,343.15 362.10,343.23 362.80,343.81 363.50,344.41 364.20,344.62 364.90,344.74 365.60,344.78 366.30,345.09 367.00,345.62 367.70,345.45 368.40,345.83 369.10,345.93 369.80,346.28 370.50,346.34 371.20,346.10 371.90,346.01 372.60,346.30 373.30,346.50 374.00,346.71 374.70,346.95 375.40,347.08 376.10,346.56 376.80,347.18 377.50,347.23 378.20,347.33 378.90,347.18 379.60,347.03 380.30,347.48 381.00,347.50 381.70,347.46 382.40,347.67 383.10,347.31 383.80,347.17 384.50,347.54 385.20,347.74 385.90,347.36 386.60,347.78 387.30,347.94 388.00,347.48 388.70,347.77 389.40,347.85 390.10,347.73 390.80,347.57 391.50,347.63 392.20,348.01 392.90,348.06 393.60,347.85 394.30,347.61 395.00,348.13 395.70,348.13 396.40,347.77 397.10,348.03 397.80,348.27 398.50,348.28 399.20,348.05 399.90,348.03 400.60,348.12 401.30,347.86 402.00,347.88 402.70,347.88 403.40,348.26 404.10,348.04 404.80,348.19 405.50,348.09 406.20,348.18 406.90,347.93 407.60,347.87 408.30,348.55 409.00,348.12 409.70,347.95 410.40,348.32 411.10,348.44 411.80,348.01 412.50,348.33 413.20,348.16 413.90,348.29 414.60,347.95 415.30,347.96 416.00,348.64 416.70,348.56 417.40,348.30 418.10,348.36 418.80,348.16 419.50,348.53 420.20,348.28 420.90,348.65 421.60,348.53 422.30,348.58 423.00,348.68 423.70,348.19 424.40,348.04 425.10,348.16 425.80,348.15 426.50,348.09 427.20,348.07 427.90,348.43 428.60,348.65 429.30,348.37 430.00,348.71 430.70,348.69 431.40,348.10 432.10,348.48 432.80,348.34 433.50,348.15 434.20,348.74" fill="none" stroke="#000" stroke-width="2.1" stroke-linejoin="round"/>
<polyline points="408.60,321.22 409.40,321.82 410.20,322.27 411.00,322.85 411.80,323.05 412.60,323.25 413.40,323.63 414.20,323.79 415.00,324.61 415.80,324.94 416.60,324.78 417.40,324.97 418.20,325.39 419.00,325.72 419.80,326.32 420.60,326.58 421.40,326.79 422.20,326.56 423.00,327.24 423.80,327.42 424.60,327.60 425.40,328.02 426.20,327.67 427.00,327.92 427.80,328.48 428.60,328.77 429.40,328.80 430.20,328.74 431.00,329.09 431.80,329.35 432.60,329.12 433.40,329.40 434.20,329.51 435.00,329.57 435.80,329.92 436.60,329.87 437.40,330.04 438.20,330.11 439.00,330.55 439.80,330.27 440.60,330.80 441.40,330.60 442.20,330.61 443.00,331.24 443.80,330.92" fill="none" stroke="#000" stroke-width="2.0" stroke-linejoin="round"/>
<polyline points="406.80,320.89 406.80,309.90 407.05,313.19 407.30,315.53 407.55,317.21 407.80,318.43 408.05,319.32 408.30,319.98 408.55,320.48 408.80,320.87 409.05,321.18 409.30,321.44 409.55,321.65 409.80,321.84 410.05,322.01" fill="none" stroke="#000" stroke-width="1.15" stroke-linejoin="round"/>
<polyline points="416.40,325.37 416.40,312.30 416.65,316.17 416.90,318.91 417.15,320.85 417.40,322.23 417.65,323.23 417.90,323.95 418.15,324.48 418.40,324.88 418.65,325.19 418.90,325.42 419.15,325.62 419.40,325.77 419.65,325.91" fill="none" stroke="#000" stroke-width="1.15" stroke-linejoin="round"/>
<polyline points="425.90,328.36 425.90,315.60 426.15,319.34 426.40,321.98 426.65,323.85 426.90,325.17 427.15,326.11 427.40,326.79 427.65,327.28 427.90,327.64 428.15,327.91 428.40,328.12 428.65,328.28 428.90,328.41 429.15,328.52" fill="none" stroke="#000" stroke-width="1.15" stroke-linejoin="round"/>
<polyline points="434.80,330.26 434.80,321.80 435.05,324.56 435.30,326.39 435.55,327.61 435.80,328.43 436.05,328.98 436.30,329.36 436.55,329.63 436.80,329.82 437.05,329.95 437.30,330.06 437.55,330.14" fill="none" stroke="#000" stroke-width="1.15" stroke-linejoin="round"/>
<polyline points="444.00,339.60 444.00,333.20 453.10,333.20 453.10,339.60" fill="none" stroke="#000" stroke-width="1.3" stroke-linejoin="round"/>
<polyline points="453.10,339.60 453.10,333.40 462.40,333.40 462.40,339.60" fill="none" stroke="#000" stroke-width="1.3" stroke-linejoin="round"/>
<polyline points="462.40,339.60 462.40,334.20 471.50,334.20 471.50,339.60" fill="none" stroke="#000" stroke-width="1.3" stroke-linejoin="round"/>
<line x1="406.80" y1="325.00" x2="406.80" y2="338.00" stroke="#000" stroke-width="1.1" stroke-dasharray="1,2.6"/>
<line x1="416.40" y1="327.00" x2="416.40" y2="338.00" stroke="#000" stroke-width="1.1" stroke-dasharray="1,2.6"/>
<line x1="425.90" y1="329.00" x2="425.90" y2="338.00" stroke="#000" stroke-width="1.1" stroke-dasharray="1,2.6"/>
<line x1="434.80" y1="331.00" x2="434.80" y2="338.00" stroke="#000" stroke-width="1.1" stroke-dasharray="1,2.6"/>
<line x1="434.70" y1="351.00" x2="434.70" y2="352.50" stroke="#000" stroke-width="1.1" stroke-dasharray="1,2.6"/>
<line x1="443.60" y1="354.00" x2="443.60" y2="355.50" stroke="#000" stroke-width="1.1" stroke-dasharray="1,2.6"/>
<line x1="453.10" y1="346.00" x2="453.10" y2="352.00" stroke="#000" stroke-width="1.1" stroke-dasharray="1,2.6"/>
<line x1="406.60" y1="397.00" x2="406.60" y2="398.50" stroke="#000" stroke-width="1.1" stroke-dasharray="1,2.6"/>
<line x1="416.40" y1="393.50" x2="416.40" y2="395.00" stroke="#000" stroke-width="1.1" stroke-dasharray="1,2.6"/>
<line x1="425.30" y1="390.00" x2="425.30" y2="391.50" stroke="#000" stroke-width="1.1" stroke-dasharray="1,2.6"/>
<line x1="434.70" y1="386.50" x2="434.70" y2="388.00" stroke="#000" stroke-width="1.1" stroke-dasharray="1,2.6"/>
<defs><filter id="bl" x="-10%" y="-10%" width="120%" height="120%"><feGaussianBlur stdDeviation="0.85"/></filter><filter id="bl2" x="-10%" y="-10%" width="120%" height="120%"><feGaussianBlur stdDeviation="1.5"/></filter><filter id="tex" x="0" y="0" width="100%" height="100%"><feTurbulence type="fractalNoise" baseFrequency="0.28" numOctaves="2" seed="5" result="n"/><feColorMatrix in="n" type="matrix" values="0 0 0 0 0  0 0 0 0 0  0 0 0 0 0  0 0 0 2.2 -0.55" result="na"/><feComposite in="SourceGraphic" in2="na" operator="in" result="t"/><feGaussianBlur in="t" stdDeviation="0.9"/></filter><clipPath id="mc"><rect x="27" y="156" width="150" height="217"/></clipPath></defs>
<rect x="27.00" y="156.00" width="150.00" height="217.00" fill="#001100"/>
<g clip-path="url(#mc)">
<g filter="url(#bl)">
<polygon points="63.9,182.1 64.0,182.3 66.5,184.5 66.5,185.9 66.7,188.2 65.4,190.2 66.2,192.2 67.6,194.6 68.9,195.6 69.1,196.9 70.3,197.4 72.6,198.7 74.2,200.3 76.4,199.9 78.0,199.1 78.4,201.0 77.3,203.3 76.2,203.3 75.2,205.2 73.6,206.5 72.4,207.4 70.5,208.8 70.0,208.8 68.5,210.8 66.7,211.7 65.5,213.4 64.0,214.4 62.3,215.6 61.6,216.1 59.6,217.9 58.3,218.4 56.0,219.0 55.0,219.5 53.7,220.5 52.1,221.3 50.3,221.2 47.8,220.2 46.1,218.9 43.7,217.0 42.4,218.1 40.9,217.1 39.6,218.1 38.1,217.5 36.9,215.6 35.8,214.3 36.6,214.0 37.8,212.3 40.8,212.5 41.7,214.0 43.9,214.3 45.2,214.4 46.8,213.6 48.1,212.8 49.4,211.2 49.9,208.9 51.5,207.1 51.1,206.2 51.8,203.7 53.5,201.9 52.9,200.3 54.5,199.0 54.3,196.8 54.7,195.3 56.3,194.0 57.1,192.4 57.5,190.3 57.5,187.7 58.6,186.1 58.6,184.5 60.5,182.3 61.8,182.0" fill="#0a480a"/>
<polygon points="46.4,227.8 48.3,226.9 50.3,225.2 51.0,225.4 53.0,223.6 55.7,223.0 57.2,222.1 58.7,220.8 60.4,220.9 62.0,219.8 63.8,217.9 65.6,217.6 66.5,215.8 68.9,215.5 70.3,215.0 71.5,213.8 72.3,212.3 73.5,211.2 75.3,208.7 75.5,207.6 77.7,206.7 78.2,205.2 79.0,204.1 79.8,203.1 81.7,202.8 83.4,202.1 85.1,201.4 86.4,199.5 88.3,199.8 89.9,198.5 91.2,197.2 93.0,196.9 93.8,195.4 96.3,195.9 96.8,194.8 98.9,193.1 100.3,193.2 102.6,191.0 103.7,189.9 105.3,189.1 107.1,188.9 108.0,187.8 108.7,184.9 110.0,183.2 110.4,182.1 112.0,180.1 111.3,179.4 111.9,177.8 112.8,175.3 112.4,173.7 112.8,172.1 112.7,170.4 113.3,168.4 112.6,166.9 112.4,164.5 113.5,163.0 113.4,160.5 113.7,159.4 113.7,161.0 115.1,161.8 115.7,164.0 116.2,165.8 116.7,168.3 116.1,169.4 117.1,172.4 116.6,173.5 117.2,175.1 117.0,176.9 117.0,179.1 117.0,180.5 117.8,181.8 118.4,184.4 119.0,185.2 120.6,186.7 121.6,186.6 124.2,185.6 125.1,184.6 127.2,183.3 128.6,181.5 129.3,180.8 132.8,179.6 132.9,181.0 131.8,182.3 130.6,184.5 128.2,185.0 130.3,186.7 131.5,187.6 131.8,188.7 134.3,189.1 135.2,189.8 136.9,190.3 136.4,191.0 133.8,193.2 133.8,194.4 132.7,196.0 132.9,196.6 132.2,199.0 131.6,200.2 129.5,200.9 127.9,201.5 126.8,202.7 125.3,202.1 123.6,202.8 121.7,202.9 119.9,202.2 117.1,201.5 115.7,200.0 114.8,199.3 112.8,200.4 111.5,200.0 109.3,201.2 108.0,201.6 106.3,202.0 105.0,204.1 102.9,205.3 102.4,205.9 100.7,205.4 98.9,207.3 96.5,207.0 95.2,208.0 93.9,208.6 92.8,208.6 90.1,209.5 88.6,210.1 88.2,211.9 86.0,212.9 85.3,214.0 86.0,216.4 87.0,217.8 87.1,219.7 86.5,222.3 86.8,224.3 84.3,224.7 83.1,225.9 82.0,226.2 80.4,227.2 78.4,227.3 76.9,228.3 75.3,228.8 73.8,228.6 72.3,229.8 70.1,229.9 69.1,231.0 68.3,231.0 66.7,232.2 64.3,232.4 62.5,233.6 61.8,234.4 60.4,234.7 58.6,235.5 56.0,236.4 54.2,236.6 53.6,237.4 50.9,238.3 50.3,237.0 47.3,236.5 47.2,234.8 47.8,233.2 47.9,231.1 47.5,228.7" fill="#0b5a0b"/>
<polygon points="48.3,229.3 49.6,227.8 50.7,227.2 52.8,226.3 54.3,225.3 55.8,224.3 57.8,223.0 59.2,222.4 60.5,221.4 62.7,220.2 64.3,219.7 65.6,218.3 66.1,217.7 68.1,216.3 68.6,214.9 70.4,214.0 72.0,213.2 72.5,212.2 73.9,211.4 75.6,209.8 76.5,208.8 77.9,207.9 78.3,206.1 80.1,204.8 82.1,204.9 84.4,205.7 85.6,206.2 86.5,207.7 87.3,209.6 87.7,212.4 87.9,213.2 87.8,214.9 87.1,217.4 87.1,218.5 86.6,220.2 86.1,222.5 84.6,222.8 83.9,223.7 82.7,224.5 81.3,226.1 79.6,227.0 77.9,227.8 76.6,228.0 74.5,228.7 72.8,228.6 71.4,229.3 69.4,230.3 67.4,230.0 65.6,231.1 64.4,231.5 63.0,232.9 61.3,233.2 60.4,234.1 58.3,234.7 57.0,235.1 55.4,236.1 54.3,236.8 52.5,237.1 51.1,236.2 49.1,235.8 48.6,234.2 48.8,232.9 48.0,230.3" fill="#16a616"/>
<polygon points="63.9,182.1 64.0,182.3 66.5,184.5 66.5,185.9 66.7,188.2 65.4,190.2 66.2,192.2 67.6,194.6 68.9,195.6 69.1,196.9 70.3,197.4 72.6,198.7 74.2,200.3 76.4,199.9 78.0,199.1 78.4,201.0 77.3,203.3 76.2,203.3 75.2,205.2 73.6,206.5 72.4,207.4 70.5,208.8 70.0,208.8 68.5,210.8 66.7,211.7 65.5,213.4 64.0,214.4 62.3,215.6 61.6,216.1 59.6,217.9 58.3,218.4 56.0,219.0 55.0,219.5 53.7,220.5 52.1,221.3 50.3,221.2 47.8,220.2 46.1,218.9 43.7,217.0 42.4,218.1 40.9,217.1 39.6,218.1 38.1,217.5 36.9,215.6 35.8,214.3 36.6,214.0 37.8,212.3 40.8,212.5 41.7,214.0 43.9,214.3 45.2,214.4 46.8,213.6 48.1,212.8 49.4,211.2 49.9,208.9 51.5,207.1 51.1,206.2 51.8,203.7 53.5,201.9 52.9,200.3 54.5,199.0 54.3,196.8 54.7,195.3 56.3,194.0 57.1,192.4 57.5,190.3 57.5,187.7 58.6,186.1 58.6,184.5 60.5,182.3 61.8,182.0" fill="none" stroke="#24dc24" stroke-width="2.0" stroke-linejoin="round"/>
<polygon points="46.4,227.8 48.3,226.9 50.3,225.2 51.0,225.4 53.0,223.6 55.7,223.0 57.2,222.1 58.7,220.8 60.4,220.9 62.0,219.8 63.8,217.9 65.6,217.6 66.5,215.8 68.9,215.5 70.3,215.0 71.5,213.8 72.3,212.3 73.5,211.2 75.3,208.7 75.5,207.6 77.7,206.7 78.2,205.2 79.0,204.1 79.8,203.1 81.7,202.8 83.4,202.1 85.1,201.4 86.4,199.5 88.3,199.8 89.9,198.5 91.2,197.2 93.0,196.9 93.8,195.4 96.3,195.9 96.8,194.8 98.9,193.1 100.3,193.2 102.6,191.0 103.7,189.9 105.3,189.1 107.1,188.9 108.0,187.8 108.7,184.9 110.0,183.2 110.4,182.1 112.0,180.1 111.3,179.4 111.9,177.8 112.8,175.3 112.4,173.7 112.8,172.1 112.7,170.4 113.3,168.4 112.6,166.9 112.4,164.5 113.5,163.0 113.4,160.5 113.7,159.4 113.7,161.0 115.1,161.8 115.7,164.0 116.2,165.8 116.7,168.3 116.1,169.4 117.1,172.4 116.6,173.5 117.2,175.1 117.0,176.9 117.0,179.1 117.0,180.5 117.8,181.8 118.4,184.4 119.0,185.2 120.6,186.7 121.6,186.6 124.2,185.6 125.1,184.6 127.2,183.3 128.6,181.5 129.3,180.8 132.8,179.6 132.9,181.0 131.8,182.3 130.6,184.5 128.2,185.0 130.3,186.7 131.5,187.6 131.8,188.7 134.3,189.1 135.2,189.8 136.9,190.3 136.4,191.0 133.8,193.2 133.8,194.4 132.7,196.0 132.9,196.6 132.2,199.0 131.6,200.2 129.5,200.9 127.9,201.5 126.8,202.7 125.3,202.1 123.6,202.8 121.7,202.9 119.9,202.2 117.1,201.5 115.7,200.0 114.8,199.3 112.8,200.4 111.5,200.0 109.3,201.2 108.0,201.6 106.3,202.0 105.0,204.1 102.9,205.3 102.4,205.9 100.7,205.4 98.9,207.3 96.5,207.0 95.2,208.0 93.9,208.6 92.8,208.6 90.1,209.5 88.6,210.1 88.2,211.9 86.0,212.9 85.3,214.0 86.0,216.4 87.0,217.8 87.1,219.7 86.5,222.3 86.8,224.3 84.3,224.7 83.1,225.9 82.0,226.2 80.4,227.2 78.4,227.3 76.9,228.3 75.3,228.8 73.8,228.6 72.3,229.8 70.1,229.9 69.1,231.0 68.3,231.0 66.7,232.2 64.3,232.4 62.5,233.6 61.8,234.4 60.4,234.7 58.6,235.5 56.0,236.4 54.2,236.6 53.6,237.4 50.9,238.3 50.3,237.0 47.3,236.5 47.2,234.8 47.8,233.2 47.9,231.1 47.5,228.7" fill="none" stroke="#26e026" stroke-width="2.1" stroke-linejoin="round"/>
<path d="M58,200.6 C62,201 65,202 65.5,205.3 C65,210 62,214 58,218.4 M51,233 C60,228 70,222 78,216 M55,236.5 C64,232 74,226 84,219 M62,225 C68,222 74,218 80,212 M117,186 C121,190 126,194 130,195 M116,193 L124,197 M124,189 C126,192 128,195 128,199 M90,205 C95,203 100,201 106,197" fill="none" stroke="#22d022" stroke-width="1.3"/>
<circle cx="37" cy="237.1" r="1.4" fill="#22cc22"/>
</g>
<g filter="url(#tex)"><polygon points="46.4,227.8 48.3,226.9 50.3,225.2 51.0,225.4 53.0,223.6 55.7,223.0 57.2,222.1 58.7,220.8 60.4,220.9 62.0,219.8 63.8,217.9 65.6,217.6 66.5,215.8 68.9,215.5 70.3,215.0 71.5,213.8 72.3,212.3 73.5,211.2 75.3,208.7 75.5,207.6 77.7,206.7 78.2,205.2 79.0,204.1 79.8,203.1 81.7,202.8 83.4,202.1 85.1,201.4 86.4,199.5 88.3,199.8 89.9,198.5 91.2,197.2 93.0,196.9 93.8,195.4 96.3,195.9 96.8,194.8 98.9,193.1 100.3,193.2 102.6,191.0 103.7,189.9 105.3,189.1 107.1,188.9 108.0,187.8 108.7,184.9 110.0,183.2 110.4,182.1 112.0,180.1 111.3,179.4 111.9,177.8 112.8,175.3 112.4,173.7 112.8,172.1 112.7,170.4 113.3,168.4 112.6,166.9 112.4,164.5 113.5,163.0 113.4,160.5 113.7,159.4 113.7,161.0 115.1,161.8 115.7,164.0 116.2,165.8 116.7,168.3 116.1,169.4 117.1,172.4 116.6,173.5 117.2,175.1 117.0,176.9 117.0,179.1 117.0,180.5 117.8,181.8 118.4,184.4 119.0,185.2 120.6,186.7 121.6,186.6 124.2,185.6 125.1,184.6 127.2,183.3 128.6,181.5 129.3,180.8 132.8,179.6 132.9,181.0 131.8,182.3 130.6,184.5 128.2,185.0 130.3,186.7 131.5,187.6 131.8,188.7 134.3,189.1 135.2,189.8 136.9,190.3 136.4,191.0 133.8,193.2 133.8,194.4 132.7,196.0 132.9,196.6 132.2,199.0 131.6,200.2 129.5,200.9 127.9,201.5 126.8,202.7 125.3,202.1 123.6,202.8 121.7,202.9 119.9,202.2 117.1,201.5 115.7,200.0 114.8,199.3 112.8,200.4 111.5,200.0 109.3,201.2 108.0,201.6 106.3,202.0 105.0,204.1 102.9,205.3 102.4,205.9 100.7,205.4 98.9,207.3 96.5,207.0 95.2,208.0 93.9,208.6 92.8,208.6 90.1,209.5 88.6,210.1 88.2,211.9 86.0,212.9 85.3,214.0 86.0,216.4 87.0,217.8 87.1,219.7 86.5,222.3 86.8,224.3 84.3,224.7 83.1,225.9 82.0,226.2 80.4,227.2 78.4,227.3 76.9,228.3 75.3,228.8 73.8,228.6 72.3,229.8 70.1,229.9 69.1,231.0 68.3,231.0 66.7,232.2 64.3,232.4 62.5,233.6 61.8,234.4 60.4,234.7 58.6,235.5 56.0,236.4 54.2,236.6 53.6,237.4 50.9,238.3 50.3,237.0 47.3,236.5 47.2,234.8 47.8,233.2 47.9,231.1 47.5,228.7" fill="#2aff2a" opacity="0.35"/><polygon points="63.9,182.1 64.0,182.3 66.5,184.5 66.5,185.9 66.7,188.2 65.4,190.2 66.2,192.2 67.6,194.6 68.9,195.6 69.1,196.9 70.3,197.4 72.6,198.7 74.2,200.3 76.4,199.9 78.0,199.1 78.4,201.0 77.3,203.3 76.2,203.3 75.2,205.2 73.6,206.5 72.4,207.4 70.5,208.8 70.0,208.8 68.5,210.8 66.7,211.7 65.5,213.4 64.0,214.4 62.3,215.6 61.6,216.1 59.6,217.9 58.3,218.4 56.0,219.0 55.0,219.5 53.7,220.5 52.1,221.3 50.3,221.2 47.8,220.2 46.1,218.9 43.7,217.0 42.4,218.1 40.9,217.1 39.6,218.1 38.1,217.5 36.9,215.6 35.8,214.3 36.6,214.0 37.8,212.3 40.8,212.5 41.7,214.0 43.9,214.3 45.2,214.4 46.8,213.6 48.1,212.8 49.4,211.2 49.9,208.9 51.5,207.1 51.1,206.2 51.8,203.7 53.5,201.9 52.9,200.3 54.5,199.0 54.3,196.8 54.7,195.3 56.3,194.0 57.1,192.4 57.5,190.3 57.5,187.7 58.6,186.1 58.6,184.5 60.5,182.3 61.8,182.0" fill="#2aff2a" opacity="0.25"/></g>
<g filter="url(#bl)">
<polygon points="34.9,255.7 35.8,257.5 36.1,259.4 37.7,261.5 38.2,262.6 38.7,264.4 39.0,265.9 40.5,267.2 42.7,267.6 44.2,267.5 45.2,268.5 47.2,269.2 48.8,269.0 50.1,270.1 51.5,270.1 53.1,270.3 55.2,271.4 56.5,271.1 58.5,271.7 60.1,272.3 61.3,272.2 63.1,272.5 64.3,272.7 66.6,272.7 67.4,273.6 69.2,274.2 70.9,274.6 73.0,275.1 73.9,275.8 75.7,276.5 76.9,277.6 78.4,278.0 80.5,278.2 81.1,279.0 83.2,280.2 84.1,280.6 85.5,281.4 86.8,282.4 89.1,283.4 90.3,284.1 91.1,284.1 93.4,285.4 94.3,286.2 96.1,286.6 97.3,286.5 98.9,287.0 100.4,288.3 101.9,287.9 103.1,288.5 105.4,289.2 106.5,289.5 108.7,290.3 109.4,290.4 110.8,291.1 113.0,291.5 113.9,292.5 115.7,293.5 117.2,293.6 119.4,294.1 121.2,294.7 122.1,295.2 123.5,295.8 125.3,296.8 127.4,297.0 127.8,297.9 129.2,299.1 130.3,300.9 131.4,301.2 133.4,302.9 134.6,303.9 135.7,305.4 137.2,306.1 138.5,306.1 139.8,307.6 142.1,308.3 143.1,308.7 145.1,309.4 146.7,310.0 148.2,310.8 149.4,311.7 151.4,312.0 152.8,314.0 153.9,314.2 155.5,315.5 156.9,317.1 157.4,317.8 159.3,319.3 160.8,320.8 161.6,321.0 160.3,320.5 158.2,320.1 156.5,320.3 154.9,319.5 153.3,318.7 151.5,318.3 150.0,318.2 148.0,317.5 145.9,316.5 144.9,316.4 143.5,316.0 141.1,315.3 140.1,314.6 137.7,314.1 136.9,312.5 135.0,312.0 133.6,311.1 131.7,309.9 131.0,308.2 128.8,307.3 127.8,306.9 125.6,307.0 124.2,305.9 122.6,305.8 120.2,306.1 118.6,305.8 116.6,305.6 114.9,305.0 113.5,305.4 111.9,306.1 110.4,305.4 108.3,306.2 106.9,306.5 105.2,306.0 103.3,307.0 101.7,307.1 100.7,307.1 98.7,307.3 96.9,306.2 95.7,304.9 94.2,303.5 93.2,302.5 91.3,301.2 90.1,300.7 88.5,299.7 86.4,299.0 85.7,298.3 84.3,297.8 82.5,297.0 81.1,296.1 79.5,296.2 77.8,295.2 76.3,294.3 74.3,293.6 73.5,293.9 71.7,293.5 70.2,292.3 68.1,292.2 66.5,292.2 65.0,291.8 62.7,291.0 61.5,290.6 59.8,290.2 57.8,290.2 56.2,289.8 55.0,289.8 52.7,289.3 51.0,289.6 50.0,289.7 47.7,289.2 46.4,289.0 44.3,288.6 42.4,289.0 41.2,289.0 39.2,289.3 37.8,288.9 35.6,290.1 34.9,290.5 32.8,290.3 30.7,290.7 31.3,289.8 32.5,288.1 32.2,286.0 32.9,285.1 33.3,283.3 34.3,281.3 35.1,279.4 35.2,277.6 35.3,275.7 36.0,274.1 35.7,273.3 35.8,271.5 36.1,269.7 36.0,268.3 36.1,266.4 35.7,264.7 35.8,262.8 35.5,260.8 35.7,259.4 34.9,257.4" fill="#052805" stroke="#0d4d0d" stroke-width="1.3" stroke-linejoin="round"/>
<path d="M80,283 C84,280 90,282 92,286 C90,290 84,290 80,287 M40,270 C38,278 37,284 36,289 M96,304 L99,307" fill="none" stroke="#126612" stroke-width="1"/>
</g>
<g filter="url(#tex)"><polygon points="34.9,255.7 35.8,257.5 36.1,259.4 37.7,261.5 38.2,262.6 38.7,264.4 39.0,265.9 40.5,267.2 42.7,267.6 44.2,267.5 45.2,268.5 47.2,269.2 48.8,269.0 50.1,270.1 51.5,270.1 53.1,270.3 55.2,271.4 56.5,271.1 58.5,271.7 60.1,272.3 61.3,272.2 63.1,272.5 64.3,272.7 66.6,272.7 67.4,273.6 69.2,274.2 70.9,274.6 73.0,275.1 73.9,275.8 75.7,276.5 76.9,277.6 78.4,278.0 80.5,278.2 81.1,279.0 83.2,280.2 84.1,280.6 85.5,281.4 86.8,282.4 89.1,283.4 90.3,284.1 91.1,284.1 93.4,285.4 94.3,286.2 96.1,286.6 97.3,286.5 98.9,287.0 100.4,288.3 101.9,287.9 103.1,288.5 105.4,289.2 106.5,289.5 108.7,290.3 109.4,290.4 110.8,291.1 113.0,291.5 113.9,292.5 115.7,293.5 117.2,293.6 119.4,294.1 121.2,294.7 122.1,295.2 123.5,295.8 125.3,296.8 127.4,297.0 127.8,297.9 129.2,299.1 130.3,300.9 131.4,301.2 133.4,302.9 134.6,303.9 135.7,305.4 137.2,306.1 138.5,306.1 139.8,307.6 142.1,308.3 143.1,308.7 145.1,309.4 146.7,310.0 148.2,310.8 149.4,311.7 151.4,312.0 152.8,314.0 153.9,314.2 155.5,315.5 156.9,317.1 157.4,317.8 159.3,319.3 160.8,320.8 161.6,321.0 160.3,320.5 158.2,320.1 156.5,320.3 154.9,319.5 153.3,318.7 151.5,318.3 150.0,318.2 148.0,317.5 145.9,316.5 144.9,316.4 143.5,316.0 141.1,315.3 140.1,314.6 137.7,314.1 136.9,312.5 135.0,312.0 133.6,311.1 131.7,309.9 131.0,308.2 128.8,307.3 127.8,306.9 125.6,307.0 124.2,305.9 122.6,305.8 120.2,306.1 118.6,305.8 116.6,305.6 114.9,305.0 113.5,305.4 111.9,306.1 110.4,305.4 108.3,306.2 106.9,306.5 105.2,306.0 103.3,307.0 101.7,307.1 100.7,307.1 98.7,307.3 96.9,306.2 95.7,304.9 94.2,303.5 93.2,302.5 91.3,301.2 90.1,300.7 88.5,299.7 86.4,299.0 85.7,298.3 84.3,297.8 82.5,297.0 81.1,296.1 79.5,296.2 77.8,295.2 76.3,294.3 74.3,293.6 73.5,293.9 71.7,293.5 70.2,292.3 68.1,292.2 66.5,292.2 65.0,291.8 62.7,291.0 61.5,290.6 59.8,290.2 57.8,290.2 56.2,289.8 55.0,289.8 52.7,289.3 51.0,289.6 50.0,289.7 47.7,289.2 46.4,289.0 44.3,288.6 42.4,289.0 41.2,289.0 39.2,289.3 37.8,288.9 35.6,290.1 34.9,290.5 32.8,290.3 30.7,290.7 31.3,289.8 32.5,288.1 32.2,286.0 32.9,285.1 33.3,283.3 34.3,281.3 35.1,279.4 35.2,277.6 35.3,275.7 36.0,274.1 35.7,273.3 35.8,271.5 36.1,269.7 36.0,268.3 36.1,266.4 35.7,264.7 35.8,262.8 35.5,260.8 35.7,259.4 34.9,257.4" fill="#1a8a1a" opacity="0.3"/></g>
<g filter="url(#bl)">
<polygon points="32.9,337.6 34.1,336.5 34.9,335.1 35.8,334.4 39.0,334.5 40.9,333.7 42.2,333.7 44.2,334.1 45.3,333.5 47.6,334.3 50.2,333.1 52.1,333.0 53.5,333.2 54.3,334.5 56.3,333.8 59.0,335.0 59.7,335.3 61.7,335.2 62.9,335.8 65.3,336.1 67.4,335.3 68.6,335.3 70.1,335.4 72.2,336.3 73.7,336.6 75.9,336.2 78.2,336.5 79.2,336.5 81.4,336.0 83.5,336.0 84.9,337.1 85.5,337.1 87.7,336.9 88.9,336.2 90.8,337.3 92.5,336.8 95.2,336.9 96.0,335.9 97.9,336.3 99.0,336.1 101.7,336.1 102.3,336.0 104.2,334.7 106.9,335.0 108.4,334.6 110.6,333.2 112.1,332.7 113.7,332.4 116.5,333.3 117.6,333.4 120.7,335.4 121.4,335.6 123.2,337.0 124.5,337.0 125.5,338.3 126.9,338.3 129.6,338.5 131.0,340.4 132.3,341.0 133.1,341.2 134.7,342.6 136.4,342.8 138.8,344.0 140.2,344.2 141.0,345.3 142.5,345.5 143.9,346.2 145.3,348.2 147.0,349.2 147.2,350.3 145.5,351.9 145.4,354.5 143.3,355.9 142.4,357.3 141.2,360.4 139.8,361.6 138.7,362.6 138.4,364.2 136.1,364.9 135.1,364.7 132.6,365.0 132.3,363.2 132.0,361.5 131.6,359.6 130.2,358.0 129.8,356.8 128.3,355.4 128.1,353.8 126.8,353.2 124.8,351.6 122.9,351.1 122.5,349.7 120.3,349.5 118.4,348.3 116.6,348.4 114.5,347.7 112.8,348.5 111.2,348.7 108.8,348.1 107.7,349.1 105.8,349.4 104.7,348.8 102.9,349.3 100.4,350.6 98.8,352.1 96.8,350.4 95.3,349.5 93.8,349.4 91.7,349.4 89.7,348.3 88.5,347.9 86.6,348.1 85.4,346.6 84.1,346.2 82.3,347.0 80.8,348.3 79.5,347.9 77.8,348.7 75.6,348.4 74.3,349.4 73.1,350.4 70.8,349.2 69.3,348.5 66.3,349.0 65.2,348.2 63.6,349.9 61.7,349.9 59.9,350.3 59.3,351.1 57.7,352.4 55.6,352.2 54.3,352.2 51.6,351.6 50.5,351.6 48.9,349.7 48.0,348.0 47.8,345.6 46.4,345.7 43.4,344.7 41.9,344.6 40.7,343.4 38.1,343.0 37.2,343.0 34.8,343.0 33.9,341.7 33.0,339.7" fill="#0f780f" stroke="#28dc28" stroke-width="2.0" stroke-linejoin="round"/>
<path d="M38,339 C50,340 60,339 70,341 M75,341 C85,343 95,344 110,343 M112,336 C120,341 128,346 136,352 M128,350 C132,355 135,358 136,362 M55,337 C58,342 62,346 66,348" fill="none" stroke="#2ae42a" stroke-width="1.2"/>
</g>
<g filter="url(#tex)"><polygon points="32.9,337.6 34.1,336.5 34.9,335.1 35.8,334.4 39.0,334.5 40.9,333.7 42.2,333.7 44.2,334.1 45.3,333.5 47.6,334.3 50.2,333.1 52.1,333.0 53.5,333.2 54.3,334.5 56.3,333.8 59.0,335.0 59.7,335.3 61.7,335.2 62.9,335.8 65.3,336.1 67.4,335.3 68.6,335.3 70.1,335.4 72.2,336.3 73.7,336.6 75.9,336.2 78.2,336.5 79.2,336.5 81.4,336.0 83.5,336.0 84.9,337.1 85.5,337.1 87.7,336.9 88.9,336.2 90.8,337.3 92.5,336.8 95.2,336.9 96.0,335.9 97.9,336.3 99.0,336.1 101.7,336.1 102.3,336.0 104.2,334.7 106.9,335.0 108.4,334.6 110.6,333.2 112.1,332.7 113.7,332.4 116.5,333.3 117.6,333.4 120.7,335.4 121.4,335.6 123.2,337.0 124.5,337.0 125.5,338.3 126.9,338.3 129.6,338.5 131.0,340.4 132.3,341.0 133.1,341.2 134.7,342.6 136.4,342.8 138.8,344.0 140.2,344.2 141.0,345.3 142.5,345.5 143.9,346.2 145.3,348.2 147.0,349.2 147.2,350.3 145.5,351.9 145.4,354.5 143.3,355.9 142.4,357.3 141.2,360.4 139.8,361.6 138.7,362.6 138.4,364.2 136.1,364.9 135.1,364.7 132.6,365.0 132.3,363.2 132.0,361.5 131.6,359.6 130.2,358.0 129.8,356.8 128.3,355.4 128.1,353.8 126.8,353.2 124.8,351.6 122.9,351.1 122.5,349.7 120.3,349.5 118.4,348.3 116.6,348.4 114.5,347.7 112.8,348.5 111.2,348.7 108.8,348.1 107.7,349.1 105.8,349.4 104.7,348.8 102.9,349.3 100.4,350.6 98.8,352.1 96.8,350.4 95.3,349.5 93.8,349.4 91.7,349.4 89.7,348.3 88.5,347.9 86.6,348.1 85.4,346.6 84.1,346.2 82.3,347.0 80.8,348.3 79.5,347.9 77.8,348.7 75.6,348.4 74.3,349.4 73.1,350.4 70.8,349.2 69.3,348.5 66.3,349.0 65.2,348.2 63.6,349.9 61.7,349.9 59.9,350.3 59.3,351.1 57.7,352.4 55.6,352.2 54.3,352.2 51.6,351.6 50.5,351.6 48.9,349.7 48.0,348.0 47.8,345.6 46.4,345.7 43.4,344.7 41.9,344.6 40.7,343.4 38.1,343.0 37.2,343.0 34.8,343.0 33.9,341.7 33.0,339.7" fill="#3aff3a" opacity="0.55"/></g>
<circle cx="133.6" cy="372.6" r="0.9" fill="#c02020"/>
</g>
<text x="34.50" y="176.70" font-size="8.6" font-weight="normal" text-anchor="start" fill="#fff">Control</text>
<line x1="71.40" y1="250.00" x2="94.70" y2="250.00" stroke="#fff" stroke-width="1.0"/>
<text x="94.70" y="253.30" font-size="9.0" font-weight="normal" text-anchor="start" fill="#fff">20 µm</text>
<text x="109.20" y="277.60" font-size="8.6" font-weight="normal" text-anchor="start" fill="#fff">Heart failure</text>
<text x="34.50" y="317.90" font-size="8.6" font-weight="normal" text-anchor="start" fill="#fff">Heart failure</text>
<text x="34.50" y="328.50" font-size="8.6" font-weight="normal" text-anchor="start" fill="#fff">+antimiR</text>
</svg>
</body></html>
